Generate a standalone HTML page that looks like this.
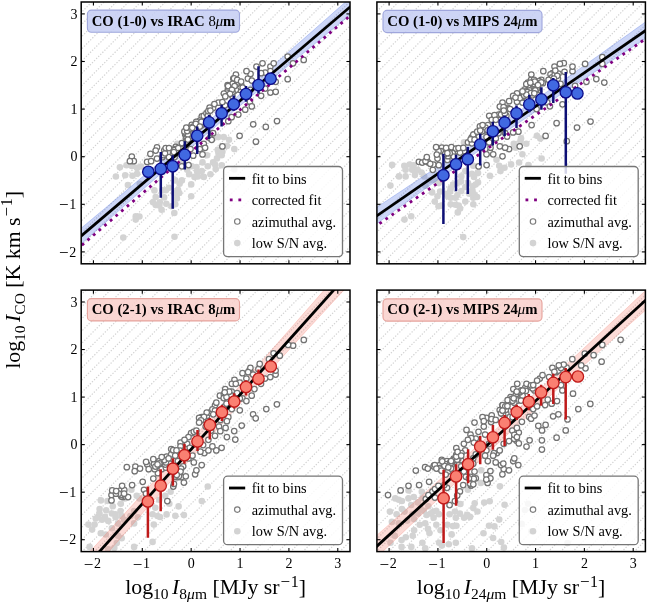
<!DOCTYPE html><html><head><meta charset="utf-8"><style>html,body{margin:0;padding:0;background:#fff;width:648px;height:603px;overflow:hidden}</style></head><body><svg width="648" height="603" viewBox="0 0 648 603" style="display:block;will-change:transform;font-family:'Liberation Serif',serif" font-size="14"><defs><clipPath id="cTL"><rect x="81.2" y="2.0" width="268.80" height="261.80"/></clipPath><clipPath id="cTR"><rect x="376.9" y="2.0" width="268.50" height="261.80"/></clipPath><clipPath id="cBL"><rect x="81.2" y="290.1" width="268.80" height="261.50"/></clipPath><clipPath id="cBR"><rect x="376.9" y="290.1" width="268.50" height="261.50"/></clipPath></defs><rect width="648" height="603" fill="#fff"/><path clip-path="url(#cTL)" d="M7.86,0L-692.14,700M20.13,0L-679.87,700M32.40,0L-667.60,700M44.67,0L-655.33,700M56.94,0L-643.06,700M69.21,0L-630.79,700M81.48,0L-618.52,700M93.75,0L-606.25,700M106.02,0L-593.98,700M118.29,0L-581.71,700M130.56,0L-569.44,700M142.83,0L-557.17,700M155.10,0L-544.90,700M167.37,0L-532.63,700M179.64,0L-520.36,700M191.91,0L-508.09,700M204.18,0L-495.82,700M216.45,0L-483.55,700M228.72,0L-471.28,700M240.99,0L-459.01,700M253.26,0L-446.74,700M265.53,0L-434.47,700M277.80,0L-422.20,700M290.07,0L-409.93,700M302.34,0L-397.66,700M314.61,0L-385.39,700M326.88,0L-373.12,700M339.15,0L-360.85,700M351.42,0L-348.58,700M363.69,0L-336.31,700M375.96,0L-324.04,700M388.23,0L-311.77,700M400.50,0L-299.50,700M412.77,0L-287.23,700M425.04,0L-274.96,700M437.31,0L-262.69,700M449.58,0L-250.42,700M461.85,0L-238.15,700M474.12,0L-225.88,700M486.39,0L-213.61,700M498.66,0L-201.34,700M510.93,0L-189.07,700M523.20,0L-176.80,700M535.47,0L-164.53,700M547.74,0L-152.26,700M560.01,0L-139.99,700M572.28,0L-127.72,700M584.55,0L-115.45,700M596.82,0L-103.18,700M609.09,0L-90.91,700M621.36,0L-78.64,700M633.63,0L-66.37,700M645.90,0L-54.10,700M658.17,0L-41.83,700M670.44,0L-29.56,700M682.71,0L-17.29,700M694.98,0L-5.02,700M707.25,0L7.25,700M719.52,0L19.52,700M731.79,0L31.79,700M744.06,0L44.06,700M756.33,0L56.33,700M768.60,0L68.60,700M780.87,0L80.87,700M793.14,0L93.14,700M805.41,0L105.41,700M817.68,0L117.68,700M829.95,0L129.95,700M842.22,0L142.22,700M854.49,0L154.49,700M866.76,0L166.76,700M879.03,0L179.03,700M891.30,0L191.30,700M903.57,0L203.57,700M915.84,0L215.84,700M928.11,0L228.11,700M940.38,0L240.38,700M952.65,0L252.65,700M964.92,0L264.92,700M977.19,0L277.19,700M989.46,0L289.46,700M1001.73,0L301.73,700M1014.00,0L314.00,700M1026.27,0L326.27,700M1038.54,0L338.54,700M1050.81,0L350.81,700M1063.08,0L363.08,700M1075.35,0L375.35,700M1087.62,0L387.62,700M1099.89,0L399.89,700M1112.16,0L412.16,700M1124.43,0L424.43,700M1136.70,0L436.70,700M1148.97,0L448.97,700M1161.24,0L461.24,700M1173.51,0L473.51,700M1185.78,0L485.78,700M1198.05,0L498.05,700M1210.32,0L510.32,700M1222.59,0L522.59,700M1234.86,0L534.86,700M1247.13,0L547.13,700M1259.40,0L559.40,700M1271.67,0L571.67,700M1283.94,0L583.94,700M1296.21,0L596.21,700M1308.48,0L608.48,700M1320.75,0L620.75,700M1333.02,0L633.02,700M1345.29,0L645.29,700" stroke="#d2d2d2" stroke-width="1.2" stroke-dasharray="1.3 1.63" fill="none"/><g clip-path="url(#cTL)" fill="#d3d3d3"><circle cx="119.9" cy="167.2" r="3.3"/><circle cx="126.5" cy="165.2" r="3.3"/><circle cx="131.8" cy="165.9" r="3.3"/><circle cx="137.1" cy="167.9" r="3.3"/><circle cx="141.1" cy="166.5" r="3.3"/><circle cx="115.9" cy="176.5" r="3.3"/><circle cx="125.2" cy="175.2" r="3.3"/><circle cx="132.5" cy="175.8" r="3.3"/><circle cx="137.1" cy="173.8" r="3.3"/><circle cx="127.9" cy="185.1" r="3.3"/><circle cx="139.8" cy="183.8" r="3.3"/><circle cx="154.4" cy="190.4" r="3.3"/><circle cx="155.7" cy="197.0" r="3.3"/><circle cx="159.7" cy="202.4" r="3.3"/><circle cx="162.4" cy="190.4" r="3.3"/><circle cx="169.0" cy="187.8" r="3.3"/><circle cx="174.3" cy="193.1" r="3.3"/><circle cx="176.9" cy="198.4" r="3.3"/><circle cx="166.3" cy="203.7" r="3.3"/><circle cx="171.6" cy="206.3" r="3.3"/><circle cx="174.3" cy="213.0" r="3.3"/><circle cx="135.8" cy="216.3" r="3.3"/><circle cx="155.7" cy="205.0" r="3.3"/><circle cx="179.6" cy="183.8" r="3.3"/><circle cx="177.2" cy="143.8" r="3.3"/><circle cx="181.2" cy="162.4" r="3.3"/><circle cx="191.8" cy="166.3" r="3.3"/><circle cx="197.1" cy="171.6" r="3.3"/><circle cx="202.5" cy="162.4" r="3.3"/><circle cx="207.8" cy="166.3" r="3.3"/><circle cx="213.1" cy="162.4" r="3.3"/><circle cx="217.0" cy="158.4" r="3.3"/><circle cx="218.4" cy="153.1" r="3.3"/><circle cx="222.4" cy="151.7" r="3.3"/><circle cx="223.7" cy="137.1" r="3.3"/><circle cx="218.4" cy="137.1" r="3.3"/><circle cx="229.0" cy="139.8" r="3.3"/><circle cx="234.3" cy="149.1" r="3.3"/><circle cx="215.7" cy="169.0" r="3.3"/><circle cx="210.4" cy="174.3" r="3.3"/><circle cx="203.8" cy="176.9" r="3.3"/><circle cx="189.2" cy="174.3" r="3.3"/><circle cx="194.5" cy="176.9" r="3.3"/><circle cx="213.8" cy="138.0" r="3.3"/><circle cx="217.8" cy="149.9" r="3.3"/><circle cx="227.0" cy="145.9" r="3.3"/><circle cx="207.1" cy="155.2" r="3.3"/><circle cx="221.7" cy="155.2" r="3.3"/><circle cx="215.1" cy="164.5" r="3.3"/><circle cx="221.7" cy="165.2" r="3.3"/><circle cx="196.5" cy="167.1" r="3.3"/><circle cx="201.8" cy="171.1" r="3.3"/><circle cx="197.9" cy="176.4" r="3.3"/><circle cx="187.2" cy="169.8" r="3.3"/><circle cx="181.9" cy="180.4" r="3.3"/><circle cx="175.3" cy="180.4" r="3.3"/><circle cx="191.2" cy="184.4" r="3.3"/><circle cx="178.0" cy="189.7" r="3.3"/><circle cx="191.2" cy="196.3" r="3.3"/><circle cx="175.3" cy="204.3" r="3.3"/><circle cx="135.7" cy="219.6" r="3.3"/><circle cx="139.4" cy="216.5" r="3.3"/><circle cx="123.3" cy="237.5" r="3.3"/><circle cx="153.0" cy="202.3" r="3.3"/><circle cx="161.6" cy="209.8" r="3.3"/><circle cx="164.1" cy="197.4" r="3.3"/><circle cx="165.9" cy="190.3" r="3.3"/><circle cx="179.2" cy="193.0" r="3.3"/><circle cx="159.3" cy="205.6" r="3.3"/><circle cx="174.5" cy="236.7" r="3.3"/><circle cx="234.3" cy="169.5" r="3.3"/></g><path clip-path="url(#cTL)" d="M61.2,244.9L66.3,240.6L71.5,236.3L76.6,232.0L81.8,227.7L86.9,223.4L92.1,219.1L97.2,214.8L102.4,210.5L107.5,206.2L112.7,201.9L117.8,197.6L123.0,193.3L128.1,189.0L133.3,184.6L138.4,180.3L143.5,176.0L148.7,171.7L153.8,167.3L159.0,163.0L164.1,158.6L169.3,154.3L174.4,149.9L179.6,145.6L184.7,141.2L189.9,136.9L195.0,132.5L200.2,128.1L205.3,123.8L210.5,119.4L215.6,115.0L220.7,110.6L225.9,106.2L231.0,101.8L236.2,97.4L241.3,93.0L246.5,88.5L251.6,84.1L256.8,79.6L261.9,75.2L267.1,70.7L272.2,66.3L277.4,61.8L282.5,57.3L287.7,52.8L292.8,48.3L297.9,43.8L303.1,39.3L308.2,34.8L313.4,30.3L318.5,25.7L323.7,21.2L328.8,16.7L334.0,12.1L339.1,7.6L344.3,3.1L349.4,-1.5L354.6,-6.0L359.7,-10.6L364.9,-15.1L370.0,-19.7L370.0,-1.3L364.9,2.9L359.7,7.1L354.6,11.3L349.4,15.5L344.3,19.7L339.1,23.9L334.0,28.1L328.8,32.3L323.7,36.5L318.5,40.7L313.4,45.0L308.2,49.2L303.1,53.4L297.9,57.6L292.8,61.9L287.7,66.1L282.5,70.4L277.4,74.7L272.2,78.9L267.1,83.2L261.9,87.5L256.8,91.8L251.6,96.1L246.5,100.4L241.3,104.7L236.2,109.1L231.0,113.4L225.9,117.8L220.7,122.1L215.6,126.5L210.5,130.9L205.3,135.3L200.2,139.7L195.0,144.1L189.9,148.6L184.7,153.0L179.6,157.5L174.4,161.9L169.3,166.4L164.1,170.9L159.0,175.4L153.8,179.9L148.7,184.4L143.5,188.9L138.4,193.4L133.3,197.9L128.1,202.5L123.0,207.0L117.8,211.6L112.7,216.1L107.5,220.7L102.4,225.2L97.2,229.8L92.1,234.3L86.9,238.9L81.8,243.5L76.6,248.1L71.5,252.6L66.3,257.2L61.2,261.8Z" fill="#4169e1" fill-opacity="0.27" stroke="#4169e1" stroke-opacity="0.27" stroke-width="1.0"/><g clip-path="url(#cTL)" fill="#fff" stroke="#737373" stroke-width="1.25"><circle cx="247.9" cy="78.5" r="2.75"/><circle cx="191.7" cy="124.9" r="2.75"/><circle cx="131.8" cy="156.6" r="2.75"/><circle cx="261.1" cy="95.8" r="2.75"/><circle cx="230.7" cy="91.6" r="2.75"/><circle cx="175.7" cy="146.9" r="2.75"/><circle cx="253.2" cy="124.3" r="2.75"/><circle cx="169.0" cy="157.2" r="2.75"/><circle cx="190.5" cy="131.8" r="2.75"/><circle cx="187.5" cy="137.5" r="2.75"/><circle cx="270.4" cy="66.6" r="2.75"/><circle cx="133.8" cy="161.2" r="2.75"/><circle cx="287.7" cy="56.6" r="2.75"/><circle cx="190.3" cy="139.2" r="2.75"/><circle cx="162.4" cy="157.2" r="2.75"/><circle cx="163.7" cy="155.2" r="2.75"/><circle cx="241.2" cy="85.2" r="2.75"/><circle cx="188.5" cy="130.6" r="2.75"/><circle cx="204.5" cy="117.8" r="2.75"/><circle cx="227.6" cy="85.0" r="2.75"/><circle cx="209.8" cy="138.0" r="2.75"/><circle cx="228.0" cy="88.5" r="2.75"/><circle cx="164.3" cy="150.4" r="2.75"/><circle cx="239.9" cy="89.8" r="2.75"/><circle cx="186.5" cy="146.4" r="2.75"/><circle cx="157.0" cy="147.3" r="2.75"/><circle cx="293.0" cy="63.3" r="2.75"/><circle cx="250.5" cy="73.9" r="2.75"/><circle cx="201.8" cy="116.4" r="2.75"/><circle cx="184.4" cy="148.2" r="2.75"/><circle cx="226.6" cy="92.5" r="2.75"/><circle cx="203.8" cy="119.7" r="2.75"/><circle cx="188.5" cy="165.0" r="2.75"/><circle cx="237.1" cy="86.8" r="2.75"/><circle cx="234.0" cy="90.5" r="2.75"/><circle cx="211.7" cy="139.8" r="2.75"/><circle cx="218.4" cy="102.7" r="2.75"/><circle cx="233.9" cy="91.3" r="2.75"/><circle cx="270.4" cy="92.5" r="2.75"/><circle cx="188.6" cy="149.5" r="2.75"/><circle cx="235.9" cy="74.5" r="2.75"/><circle cx="255.9" cy="141.7" r="2.75"/><circle cx="262.5" cy="63.3" r="2.75"/><circle cx="203.8" cy="115.9" r="2.75"/><circle cx="228.3" cy="121.2" r="2.75"/><circle cx="275.7" cy="81.8" r="2.75"/><circle cx="233.3" cy="78.5" r="2.75"/><circle cx="202.1" cy="125.0" r="2.75"/><circle cx="206.4" cy="113.3" r="2.75"/><circle cx="147.1" cy="161.9" r="2.75"/><circle cx="187.3" cy="141.5" r="2.75"/><circle cx="165.0" cy="153.3" r="2.75"/><circle cx="181.9" cy="166.3" r="2.75"/><circle cx="249.9" cy="101.7" r="2.75"/><circle cx="176.5" cy="152.2" r="2.75"/><circle cx="238.3" cy="87.1" r="2.75"/><circle cx="174.9" cy="149.0" r="2.75"/><circle cx="213.1" cy="133.2" r="2.75"/><circle cx="251.8" cy="106.4" r="2.75"/><circle cx="223.9" cy="93.6" r="2.75"/><circle cx="238.3" cy="114.6" r="2.75"/><circle cx="185.2" cy="134.5" r="2.75"/><circle cx="174.3" cy="150.0" r="2.75"/><circle cx="242.7" cy="87.5" r="2.75"/><circle cx="270.4" cy="71.2" r="2.75"/><circle cx="207.8" cy="115.9" r="2.75"/><circle cx="303.7" cy="59.9" r="2.75"/><circle cx="234.1" cy="78.4" r="2.75"/><circle cx="199.8" cy="120.6" r="2.75"/><circle cx="196.2" cy="121.8" r="2.75"/><circle cx="173.0" cy="153.3" r="2.75"/><circle cx="188.6" cy="138.0" r="2.75"/><circle cx="225.0" cy="105.3" r="2.75"/><circle cx="202.1" cy="124.1" r="2.75"/><circle cx="165.7" cy="148.0" r="2.75"/><circle cx="203.8" cy="143.8" r="2.75"/><circle cx="185.9" cy="138.5" r="2.75"/><circle cx="202.5" cy="122.6" r="2.75"/><circle cx="265.8" cy="126.9" r="2.75"/><circle cx="232.6" cy="83.8" r="2.75"/><circle cx="186.7" cy="137.5" r="2.75"/><circle cx="246.5" cy="71.2" r="2.75"/><circle cx="256.5" cy="66.6" r="2.75"/><circle cx="205.1" cy="147.8" r="2.75"/><circle cx="189.2" cy="127.9" r="2.75"/><circle cx="239.6" cy="135.8" r="2.75"/><circle cx="232.4" cy="96.1" r="2.75"/><circle cx="213.1" cy="108.0" r="2.75"/><circle cx="250.5" cy="89.8" r="2.75"/><circle cx="169.0" cy="148.0" r="2.75"/><circle cx="214.4" cy="104.0" r="2.75"/><circle cx="209.6" cy="107.7" r="2.75"/><circle cx="155.7" cy="150.6" r="2.75"/><circle cx="150.4" cy="153.9" r="2.75"/><circle cx="222.4" cy="102.0" r="2.75"/><circle cx="190.5" cy="149.1" r="2.75"/><circle cx="231.6" cy="117.2" r="2.75"/><circle cx="208.3" cy="111.2" r="2.75"/><circle cx="193.2" cy="155.7" r="2.75"/><circle cx="237.2" cy="83.8" r="2.75"/><circle cx="151.1" cy="161.2" r="2.75"/><circle cx="181.9" cy="143.1" r="2.75"/><circle cx="265.1" cy="88.5" r="2.75"/><circle cx="180.9" cy="148.8" r="2.75"/><circle cx="176.1" cy="153.7" r="2.75"/><circle cx="222.4" cy="146.4" r="2.75"/><circle cx="178.3" cy="148.0" r="2.75"/><circle cx="185.6" cy="133.1" r="2.75"/><circle cx="129.9" cy="161.2" r="2.75"/><circle cx="187.9" cy="134.5" r="2.75"/><circle cx="195.5" cy="125.7" r="2.75"/><circle cx="228.1" cy="86.0" r="2.75"/><circle cx="174.6" cy="157.0" r="2.75"/><circle cx="275.7" cy="91.8" r="2.75"/><circle cx="184.4" cy="131.4" r="2.75"/><circle cx="235.9" cy="89.8" r="2.75"/><circle cx="199.8" cy="149.1" r="2.75"/><circle cx="197.1" cy="126.8" r="2.75"/><circle cx="238.3" cy="82.3" r="2.75"/><circle cx="201.4" cy="121.9" r="2.75"/><circle cx="193.2" cy="126.5" r="2.75"/><circle cx="287.7" cy="79.2" r="2.75"/><circle cx="178.6" cy="153.1" r="2.75"/><circle cx="265.1" cy="72.6" r="2.75"/><circle cx="187.2" cy="131.0" r="2.75"/><circle cx="237.2" cy="79.9" r="2.75"/><circle cx="277.0" cy="121.0" r="2.75"/><circle cx="251.8" cy="80.5" r="2.75"/><circle cx="191.5" cy="129.2" r="2.75"/><circle cx="202.5" cy="154.4" r="2.75"/><circle cx="232.6" cy="92.0" r="2.75"/><circle cx="234.6" cy="86.1" r="2.75"/><circle cx="273.7" cy="63.3" r="2.75"/><circle cx="231.9" cy="89.8" r="2.75"/><circle cx="210.4" cy="110.6" r="2.75"/><circle cx="186.3" cy="127.7" r="2.75"/><circle cx="157.0" cy="158.6" r="2.75"/><circle cx="230.0" cy="93.8" r="2.75"/><circle cx="225.3" cy="96.4" r="2.75"/><circle cx="194.5" cy="129.9" r="2.75"/><circle cx="195.8" cy="123.9" r="2.75"/><circle cx="187.9" cy="139.5" r="2.75"/><circle cx="245.2" cy="109.7" r="2.75"/><circle cx="241.1" cy="81.6" r="2.75"/><circle cx="192.3" cy="127.8" r="2.75"/><circle cx="199.8" cy="126.5" r="2.75"/><circle cx="261.1" cy="73.2" r="2.75"/><circle cx="173.9" cy="152.1" r="2.75"/></g><line clip-path="url(#cTL)" x1="41.20" y1="270.08" x2="390.00" y2="-27.08" stroke="#000" stroke-width="2.8" stroke-linecap="butt"/><line clip-path="url(#cTL)" x1="42.50" y1="278.81" x2="385.20" y2="-14.31" stroke="#800080" stroke-width="2.8" stroke-dasharray="2.8 4.6" stroke-linecap="butt"/><g clip-path="url(#cTL)"><line x1="160.8" y1="152.0" x2="160.8" y2="197.7" stroke="#0d0f75" stroke-width="2.5"/><line x1="172.7" y1="155.3" x2="172.7" y2="208.7" stroke="#0d0f75" stroke-width="2.5"/><line x1="184.8" y1="141.3" x2="184.8" y2="169.5" stroke="#0d0f75" stroke-width="2.5"/><line x1="197.2" y1="126.4" x2="197.2" y2="154.0" stroke="#0d0f75" stroke-width="2.5"/><line x1="209.1" y1="115.0" x2="209.1" y2="139.1" stroke="#0d0f75" stroke-width="2.5"/><line x1="221.6" y1="104.8" x2="221.6" y2="126.4" stroke="#0d0f75" stroke-width="2.5"/><line x1="233.7" y1="95.5" x2="233.7" y2="110.7" stroke="#0d0f75" stroke-width="2.5"/><line x1="246.0" y1="86.1" x2="246.0" y2="101.8" stroke="#0d0f75" stroke-width="2.5"/><line x1="258.5" y1="66.3" x2="258.5" y2="93.6" stroke="#0d0f75" stroke-width="2.5"/><circle cx="148.3" cy="171.8" r="5.7" fill="#4169e1" stroke="#0c0c8a" stroke-width="1.3"/><circle cx="160.8" cy="168.9" r="5.7" fill="#4169e1" stroke="#0c0c8a" stroke-width="1.3"/><circle cx="172.7" cy="166.3" r="5.7" fill="#4169e1" stroke="#0c0c8a" stroke-width="1.3"/><circle cx="184.8" cy="154.9" r="5.7" fill="#4169e1" stroke="#0c0c8a" stroke-width="1.3"/><circle cx="197.2" cy="135.8" r="5.7" fill="#4169e1" stroke="#0c0c8a" stroke-width="1.3"/><circle cx="209.1" cy="122.4" r="5.7" fill="#4169e1" stroke="#0c0c8a" stroke-width="1.3"/><circle cx="221.6" cy="113.3" r="5.7" fill="#4169e1" stroke="#0c0c8a" stroke-width="1.3"/><circle cx="233.7" cy="104.3" r="5.7" fill="#4169e1" stroke="#0c0c8a" stroke-width="1.3"/><circle cx="246.0" cy="94.0" r="5.7" fill="#4169e1" stroke="#0c0c8a" stroke-width="1.3"/><circle cx="258.5" cy="85.1" r="5.7" fill="#4169e1" stroke="#0c0c8a" stroke-width="1.3"/><circle cx="270.6" cy="78.7" r="5.7" fill="#4169e1" stroke="#0c0c8a" stroke-width="1.3"/></g><rect x="223.6" y="166.5" width="118.9" height="90.2" rx="4" fill="#fff" fill-opacity="0.82" stroke="#767676" stroke-width="1.3"/><line x1="229.0" y1="178.3" x2="245.2" y2="178.3" stroke="#000" stroke-width="2.8"/><text x="251.7" y="183.5" font-size="14.35">fit to bins</text><rect x="229.79999999999998" y="198.5" width="2.8" height="2.8" fill="#800080"/><rect x="238.4" y="198.5" width="2.8" height="2.8" fill="#800080"/><text x="251.7" y="205.1" font-size="14.35">corrected fit</text><circle cx="237.29999999999998" cy="221.5" r="2.75" fill="#fff" stroke="#7b7b7b" stroke-width="1.15"/><text x="251.7" y="226.7" font-size="14.35">azimuthal avg.</text><circle cx="237.29999999999998" cy="243.1" r="3.3" fill="#d3d3d3"/><text x="251.7" y="248.29999999999998" font-size="14.35">low S/N avg.</text><rect x="87.4" y="10.1" width="152.1" height="22.1" rx="4" fill="#c4cdf3" fill-opacity="0.85" stroke="#9fa6dc" stroke-width="1.1"/><text x="91.7" y="25.6" font-weight="bold" font-size="14.7">CO (1-0) vs IRAC <tspan font-weight="normal">8<tspan font-style="italic">μ</tspan></tspan>m</text><rect x="81.2" y="2.0" width="268.80" height="261.80" fill="none" stroke="#000" stroke-width="1.5"/><line x1="93.42" y1="263.8" x2="93.42" y2="260.2" stroke="#000" stroke-width="1.1"/><line x1="93.42" y1="2.0" x2="93.42" y2="5.6" stroke="#000" stroke-width="1.1"/><line x1="81.2" y1="251.90" x2="84.8" y2="251.90" stroke="#000" stroke-width="1.1"/><line x1="350.0" y1="251.90" x2="346.4" y2="251.90" stroke="#000" stroke-width="1.1"/><line x1="142.29" y1="263.8" x2="142.29" y2="260.2" stroke="#000" stroke-width="1.1"/><line x1="142.29" y1="2.0" x2="142.29" y2="5.6" stroke="#000" stroke-width="1.1"/><line x1="81.2" y1="204.30" x2="84.8" y2="204.30" stroke="#000" stroke-width="1.1"/><line x1="350.0" y1="204.30" x2="346.4" y2="204.30" stroke="#000" stroke-width="1.1"/><line x1="191.16" y1="263.8" x2="191.16" y2="260.2" stroke="#000" stroke-width="1.1"/><line x1="191.16" y1="2.0" x2="191.16" y2="5.6" stroke="#000" stroke-width="1.1"/><line x1="81.2" y1="156.70" x2="84.8" y2="156.70" stroke="#000" stroke-width="1.1"/><line x1="350.0" y1="156.70" x2="346.4" y2="156.70" stroke="#000" stroke-width="1.1"/><line x1="240.04" y1="263.8" x2="240.04" y2="260.2" stroke="#000" stroke-width="1.1"/><line x1="240.04" y1="2.0" x2="240.04" y2="5.6" stroke="#000" stroke-width="1.1"/><line x1="81.2" y1="109.10" x2="84.8" y2="109.10" stroke="#000" stroke-width="1.1"/><line x1="350.0" y1="109.10" x2="346.4" y2="109.10" stroke="#000" stroke-width="1.1"/><line x1="288.91" y1="263.8" x2="288.91" y2="260.2" stroke="#000" stroke-width="1.1"/><line x1="288.91" y1="2.0" x2="288.91" y2="5.6" stroke="#000" stroke-width="1.1"/><line x1="81.2" y1="61.50" x2="84.8" y2="61.50" stroke="#000" stroke-width="1.1"/><line x1="350.0" y1="61.50" x2="346.4" y2="61.50" stroke="#000" stroke-width="1.1"/><line x1="337.78" y1="263.8" x2="337.78" y2="260.2" stroke="#000" stroke-width="1.1"/><line x1="337.78" y1="2.0" x2="337.78" y2="5.6" stroke="#000" stroke-width="1.1"/><line x1="81.2" y1="13.90" x2="84.8" y2="13.90" stroke="#000" stroke-width="1.1"/><line x1="350.0" y1="13.90" x2="346.4" y2="13.90" stroke="#000" stroke-width="1.1"/><text x="76.2" y="256.6" text-anchor="end"><tspan font-size="17" dy="1.4">−</tspan><tspan dy="-1.4" dx="0.6">2</tspan></text><text x="76.2" y="209.0" text-anchor="end"><tspan font-size="17" dy="1.4">−</tspan><tspan dy="-1.4" dx="0.6">1</tspan></text><text x="77.4" y="161.4" text-anchor="end">0</text><text x="77.4" y="113.8" text-anchor="end">1</text><text x="77.4" y="66.2" text-anchor="end">2</text><text x="77.4" y="18.6" text-anchor="end">3</text><path clip-path="url(#cTR)" d="M7.86,0L-692.14,700M20.13,0L-679.87,700M32.40,0L-667.60,700M44.67,0L-655.33,700M56.94,0L-643.06,700M69.21,0L-630.79,700M81.48,0L-618.52,700M93.75,0L-606.25,700M106.02,0L-593.98,700M118.29,0L-581.71,700M130.56,0L-569.44,700M142.83,0L-557.17,700M155.10,0L-544.90,700M167.37,0L-532.63,700M179.64,0L-520.36,700M191.91,0L-508.09,700M204.18,0L-495.82,700M216.45,0L-483.55,700M228.72,0L-471.28,700M240.99,0L-459.01,700M253.26,0L-446.74,700M265.53,0L-434.47,700M277.80,0L-422.20,700M290.07,0L-409.93,700M302.34,0L-397.66,700M314.61,0L-385.39,700M326.88,0L-373.12,700M339.15,0L-360.85,700M351.42,0L-348.58,700M363.69,0L-336.31,700M375.96,0L-324.04,700M388.23,0L-311.77,700M400.50,0L-299.50,700M412.77,0L-287.23,700M425.04,0L-274.96,700M437.31,0L-262.69,700M449.58,0L-250.42,700M461.85,0L-238.15,700M474.12,0L-225.88,700M486.39,0L-213.61,700M498.66,0L-201.34,700M510.93,0L-189.07,700M523.20,0L-176.80,700M535.47,0L-164.53,700M547.74,0L-152.26,700M560.01,0L-139.99,700M572.28,0L-127.72,700M584.55,0L-115.45,700M596.82,0L-103.18,700M609.09,0L-90.91,700M621.36,0L-78.64,700M633.63,0L-66.37,700M645.90,0L-54.10,700M658.17,0L-41.83,700M670.44,0L-29.56,700M682.71,0L-17.29,700M694.98,0L-5.02,700M707.25,0L7.25,700M719.52,0L19.52,700M731.79,0L31.79,700M744.06,0L44.06,700M756.33,0L56.33,700M768.60,0L68.60,700M780.87,0L80.87,700M793.14,0L93.14,700M805.41,0L105.41,700M817.68,0L117.68,700M829.95,0L129.95,700M842.22,0L142.22,700M854.49,0L154.49,700M866.76,0L166.76,700M879.03,0L179.03,700M891.30,0L191.30,700M903.57,0L203.57,700M915.84,0L215.84,700M928.11,0L228.11,700M940.38,0L240.38,700M952.65,0L252.65,700M964.92,0L264.92,700M977.19,0L277.19,700M989.46,0L289.46,700M1001.73,0L301.73,700M1014.00,0L314.00,700M1026.27,0L326.27,700M1038.54,0L338.54,700M1050.81,0L350.81,700M1063.08,0L363.08,700M1075.35,0L375.35,700M1087.62,0L387.62,700M1099.89,0L399.89,700M1112.16,0L412.16,700M1124.43,0L424.43,700M1136.70,0L436.70,700M1148.97,0L448.97,700M1161.24,0L461.24,700M1173.51,0L473.51,700M1185.78,0L485.78,700M1198.05,0L498.05,700M1210.32,0L510.32,700M1222.59,0L522.59,700M1234.86,0L534.86,700M1247.13,0L547.13,700M1259.40,0L559.40,700M1271.67,0L571.67,700M1283.94,0L583.94,700M1296.21,0L596.21,700M1308.48,0L608.48,700M1320.75,0L620.75,700M1333.02,0L633.02,700M1345.29,0L645.29,700" stroke="#d2d2d2" stroke-width="1.2" stroke-dasharray="1.3 1.63" fill="none"/><g clip-path="url(#cTR)" fill="#d3d3d3"><circle cx="404.3" cy="165.8" r="3.3"/><circle cx="409.6" cy="164.5" r="3.3"/><circle cx="413.6" cy="165.2" r="3.3"/><circle cx="405.6" cy="169.8" r="3.3"/><circle cx="412.2" cy="169.8" r="3.3"/><circle cx="417.6" cy="169.8" r="3.3"/><circle cx="421.5" cy="172.5" r="3.3"/><circle cx="399.0" cy="176.4" r="3.3"/><circle cx="405.6" cy="176.4" r="3.3"/><circle cx="414.9" cy="175.1" r="3.3"/><circle cx="424.2" cy="176.4" r="3.3"/><circle cx="429.5" cy="180.4" r="3.3"/><circle cx="425.5" cy="185.7" r="3.3"/><circle cx="434.8" cy="180.4" r="3.3"/><circle cx="438.8" cy="183.1" r="3.3"/><circle cx="432.1" cy="192.4" r="3.3"/><circle cx="437.5" cy="196.3" r="3.3"/><circle cx="445.4" cy="193.7" r="3.3"/><circle cx="450.7" cy="197.7" r="3.3"/><circle cx="457.4" cy="195.0" r="3.3"/><circle cx="461.3" cy="191.0" r="3.3"/><circle cx="465.3" cy="187.0" r="3.3"/><circle cx="468.0" cy="183.1" r="3.3"/><circle cx="469.3" cy="193.7" r="3.3"/><circle cx="473.3" cy="197.7" r="3.3"/><circle cx="434.8" cy="201.6" r="3.3"/><circle cx="441.4" cy="205.6" r="3.3"/><circle cx="450.7" cy="204.3" r="3.3"/><circle cx="458.7" cy="205.6" r="3.3"/><circle cx="465.3" cy="201.6" r="3.3"/><circle cx="473.3" cy="204.3" r="3.3"/><circle cx="450.7" cy="188.4" r="3.3"/><circle cx="457.4" cy="183.1" r="3.3"/><circle cx="461.3" cy="176.4" r="3.3"/><circle cx="465.3" cy="171.1" r="3.3"/><circle cx="471.9" cy="173.8" r="3.3"/><circle cx="473.3" cy="165.8" r="3.3"/><circle cx="521.0" cy="138.4" r="3.3"/><circle cx="515.7" cy="147.7" r="3.3"/><circle cx="522.4" cy="154.3" r="3.3"/><circle cx="526.3" cy="143.7" r="3.3"/><circle cx="536.9" cy="135.7" r="3.3"/><circle cx="464.0" cy="142.4" r="3.3"/><circle cx="520.4" cy="141.2" r="3.3"/><circle cx="513.8" cy="143.9" r="3.3"/><circle cx="519.1" cy="162.5" r="3.3"/><circle cx="511.1" cy="164.4" r="3.3"/><circle cx="504.5" cy="167.8" r="3.3"/><circle cx="499.2" cy="165.8" r="3.3"/><circle cx="500.5" cy="171.1" r="3.3"/><circle cx="489.9" cy="175.7" r="3.3"/><circle cx="478.0" cy="173.1" r="3.3"/><circle cx="474.0" cy="177.0" r="3.3"/><circle cx="478.0" cy="182.4" r="3.3"/><circle cx="472.7" cy="186.3" r="3.3"/><circle cx="474.0" cy="194.3" r="3.3"/><circle cx="541.6" cy="158.5" r="3.3"/><circle cx="540.3" cy="138.6" r="3.3"/><circle cx="528.4" cy="165.1" r="3.3"/><circle cx="496.5" cy="159.8" r="3.3"/><circle cx="440.1" cy="191.6" r="3.3"/><circle cx="438.5" cy="206.2" r="3.3"/><circle cx="447.8" cy="196.2" r="3.3"/><circle cx="450.1" cy="191.6" r="3.3"/><circle cx="453.2" cy="184.6" r="3.3"/><circle cx="455.5" cy="197.7" r="3.3"/><circle cx="455.5" cy="204.7" r="3.3"/><circle cx="460.1" cy="208.5" r="3.3"/><circle cx="457.8" cy="212.4" r="3.3"/><circle cx="472.5" cy="190.8" r="3.3"/><circle cx="477.1" cy="197.0" r="3.3"/><circle cx="475.6" cy="184.6" r="3.3"/><circle cx="463.2" cy="237.1" r="3.3"/><circle cx="460.9" cy="181.5" r="3.3"/><circle cx="392.1" cy="164.9" r="3.3"/><circle cx="390.4" cy="185.6" r="3.3"/><circle cx="404.5" cy="219.6" r="3.3"/><circle cx="411.2" cy="216.3" r="3.3"/></g><path clip-path="url(#cTR)" d="M356.9,220.4L362.0,217.0L367.2,213.6L372.3,210.2L377.5,206.8L382.6,203.4L387.8,200.0L392.9,196.6L398.0,193.2L403.2,189.8L408.3,186.3L413.5,182.9L418.6,179.5L423.7,176.0L428.9,172.6L434.0,169.1L439.2,165.7L444.3,162.2L449.4,158.8L454.6,155.3L459.7,151.8L464.9,148.3L470.0,144.9L475.2,141.4L480.3,137.9L485.4,134.4L490.6,130.8L495.7,127.3L500.9,123.8L506.0,120.2L511.1,116.7L516.3,113.1L521.4,109.6L526.6,106.0L531.7,102.5L536.9,98.9L542.0,95.3L547.1,91.7L552.3,88.1L557.4,84.5L562.6,80.9L567.7,77.3L572.8,73.6L578.0,70.0L583.1,66.4L588.3,62.7L593.4,59.1L598.6,55.4L603.7,51.8L608.8,48.1L614.0,44.5L619.1,40.8L624.3,37.1L629.4,33.5L634.5,29.8L639.7,26.1L644.8,22.4L650.0,18.7L655.1,15.0L660.3,11.3L665.4,7.6L665.4,25.5L660.3,28.9L655.1,32.3L650.0,35.6L644.8,39.0L639.7,42.3L634.5,45.7L629.4,49.1L624.3,52.4L619.1,55.8L614.0,59.2L608.8,62.6L603.7,66.0L598.6,69.4L593.4,72.8L588.3,76.2L583.1,79.6L578.0,83.0L572.8,86.4L567.7,89.9L562.6,93.3L557.4,96.7L552.3,100.2L547.1,103.7L542.0,107.1L536.9,110.6L531.7,114.1L526.6,117.6L521.4,121.1L516.3,124.7L511.1,128.2L506.0,131.7L500.9,135.3L495.7,138.9L490.6,142.5L485.4,146.1L480.3,149.7L475.2,153.3L470.0,156.9L464.9,160.5L459.7,164.2L454.6,167.8L449.4,171.5L444.3,175.1L439.2,178.8L434.0,182.5L428.9,186.1L423.7,189.8L418.6,193.5L413.5,197.2L408.3,200.9L403.2,204.6L398.0,208.3L392.9,212.0L387.8,215.7L382.6,219.5L377.5,223.2L372.3,226.9L367.2,230.6L362.0,234.4L356.9,238.1Z" fill="#4169e1" fill-opacity="0.27" stroke="#4169e1" stroke-opacity="0.27" stroke-width="1.0"/><g clip-path="url(#cTR)" fill="#fff" stroke="#737373" stroke-width="1.25"><circle cx="533.7" cy="87.3" r="2.75"/><circle cx="537.9" cy="90.4" r="2.75"/><circle cx="502.1" cy="113.1" r="2.75"/><circle cx="534.9" cy="85.3" r="2.75"/><circle cx="564.5" cy="71.8" r="2.75"/><circle cx="518.4" cy="98.6" r="2.75"/><circle cx="536.9" cy="94.6" r="2.75"/><circle cx="532.3" cy="95.3" r="2.75"/><circle cx="441.9" cy="147.7" r="2.75"/><circle cx="480.9" cy="131.8" r="2.75"/><circle cx="552.6" cy="73.2" r="2.75"/><circle cx="471.7" cy="137.3" r="2.75"/><circle cx="531.3" cy="74.5" r="2.75"/><circle cx="472.2" cy="139.8" r="2.75"/><circle cx="484.5" cy="130.4" r="2.75"/><circle cx="537.1" cy="83.7" r="2.75"/><circle cx="521.7" cy="94.4" r="2.75"/><circle cx="541.3" cy="79.8" r="2.75"/><circle cx="418.9" cy="161.8" r="2.75"/><circle cx="464.0" cy="151.2" r="2.75"/><circle cx="489.9" cy="151.8" r="2.75"/><circle cx="550.5" cy="74.3" r="2.75"/><circle cx="525.0" cy="89.3" r="2.75"/><circle cx="437.5" cy="158.5" r="2.75"/><circle cx="542.9" cy="83.2" r="2.75"/><circle cx="531.6" cy="125.1" r="2.75"/><circle cx="539.1" cy="81.0" r="2.75"/><circle cx="552.1" cy="77.3" r="2.75"/><circle cx="556.5" cy="77.4" r="2.75"/><circle cx="447.4" cy="159.9" r="2.75"/><circle cx="519.7" cy="146.3" r="2.75"/><circle cx="507.8" cy="107.9" r="2.75"/><circle cx="560.5" cy="83.8" r="2.75"/><circle cx="527.8" cy="82.5" r="2.75"/><circle cx="572.5" cy="71.2" r="2.75"/><circle cx="522.4" cy="102.6" r="2.75"/><circle cx="453.4" cy="153.2" r="2.75"/><circle cx="517.0" cy="101.8" r="2.75"/><circle cx="446.1" cy="147.9" r="2.75"/><circle cx="440.8" cy="151.2" r="2.75"/><circle cx="531.0" cy="79.9" r="2.75"/><circle cx="448.0" cy="156.2" r="2.75"/><circle cx="474.4" cy="134.0" r="2.75"/><circle cx="554.7" cy="74.6" r="2.75"/><circle cx="522.9" cy="93.6" r="2.75"/><circle cx="486.5" cy="137.0" r="2.75"/><circle cx="586.4" cy="81.8" r="2.75"/><circle cx="536.3" cy="87.0" r="2.75"/><circle cx="563.8" cy="63.2" r="2.75"/><circle cx="547.2" cy="102.4" r="2.75"/><circle cx="427.9" cy="162.2" r="2.75"/><circle cx="522.4" cy="97.2" r="2.75"/><circle cx="502.5" cy="102.6" r="2.75"/><circle cx="482.1" cy="131.3" r="2.75"/><circle cx="520.6" cy="97.1" r="2.75"/><circle cx="533.0" cy="92.5" r="2.75"/><circle cx="490.5" cy="147.7" r="2.75"/><circle cx="526.1" cy="91.4" r="2.75"/><circle cx="468.0" cy="142.4" r="2.75"/><circle cx="473.3" cy="134.6" r="2.75"/><circle cx="596.3" cy="79.1" r="2.75"/><circle cx="558.5" cy="73.5" r="2.75"/><circle cx="537.4" cy="88.2" r="2.75"/><circle cx="445.0" cy="154.0" r="2.75"/><circle cx="517.0" cy="93.3" r="2.75"/><circle cx="506.4" cy="115.8" r="2.75"/><circle cx="498.8" cy="114.7" r="2.75"/><circle cx="585.1" cy="63.9" r="2.75"/><circle cx="535.5" cy="89.8" r="2.75"/><circle cx="566.8" cy="141.2" r="2.75"/><circle cx="486.6" cy="165.1" r="2.75"/><circle cx="519.9" cy="98.1" r="2.75"/><circle cx="524.3" cy="95.7" r="2.75"/><circle cx="457.9" cy="151.5" r="2.75"/><circle cx="509.1" cy="149.0" r="2.75"/><circle cx="534.4" cy="86.0" r="2.75"/><circle cx="489.2" cy="142.4" r="2.75"/><circle cx="489.2" cy="115.8" r="2.75"/><circle cx="590.5" cy="121.5" r="2.75"/><circle cx="453.7" cy="156.5" r="2.75"/><circle cx="491.8" cy="119.8" r="2.75"/><circle cx="499.8" cy="106.5" r="2.75"/><circle cx="422.2" cy="162.5" r="2.75"/><circle cx="604.3" cy="82.5" r="2.75"/><circle cx="527.5" cy="92.0" r="2.75"/><circle cx="449.7" cy="153.2" r="2.75"/><circle cx="536.9" cy="88.0" r="2.75"/><circle cx="479.9" cy="126.4" r="2.75"/><circle cx="518.4" cy="131.7" r="2.75"/><circle cx="438.6" cy="151.2" r="2.75"/><circle cx="559.9" cy="63.9" r="2.75"/><circle cx="451.4" cy="147.2" r="2.75"/><circle cx="495.8" cy="138.4" r="2.75"/><circle cx="543.3" cy="71.2" r="2.75"/><circle cx="505.1" cy="147.7" r="2.75"/><circle cx="477.2" cy="131.7" r="2.75"/><circle cx="506.1" cy="109.1" r="2.75"/><circle cx="554.5" cy="66.5" r="2.75"/><circle cx="494.5" cy="115.2" r="2.75"/><circle cx="436.1" cy="147.2" r="2.75"/><circle cx="456.0" cy="148.6" r="2.75"/><circle cx="487.9" cy="125.1" r="2.75"/><circle cx="557.9" cy="78.5" r="2.75"/><circle cx="555.3" cy="70.6" r="2.75"/><circle cx="460.0" cy="152.6" r="2.75"/><circle cx="536.7" cy="88.5" r="2.75"/><circle cx="536.6" cy="109.0" r="2.75"/><circle cx="432.8" cy="169.8" r="2.75"/><circle cx="498.5" cy="133.1" r="2.75"/><circle cx="503.9" cy="114.1" r="2.75"/><circle cx="471.9" cy="143.3" r="2.75"/><circle cx="433.4" cy="164.6" r="2.75"/><circle cx="534.3" cy="84.0" r="2.75"/><circle cx="501.1" cy="114.5" r="2.75"/><circle cx="530.9" cy="93.2" r="2.75"/><circle cx="510.1" cy="109.0" r="2.75"/><circle cx="577.0" cy="127.6" r="2.75"/><circle cx="478.6" cy="166.4" r="2.75"/><circle cx="505.1" cy="133.1" r="2.75"/><circle cx="504.8" cy="113.6" r="2.75"/><circle cx="552.0" cy="80.3" r="2.75"/><circle cx="485.5" cy="127.5" r="2.75"/><circle cx="556.6" cy="123.2" r="2.75"/><circle cx="575.1" cy="85.8" r="2.75"/><circle cx="458.5" cy="148.1" r="2.75"/><circle cx="528.3" cy="85.2" r="2.75"/><circle cx="557.2" cy="75.8" r="2.75"/><circle cx="436.8" cy="154.5" r="2.75"/><circle cx="526.3" cy="94.6" r="2.75"/><circle cx="545.6" cy="135.9" r="2.75"/><circle cx="562.5" cy="104.3" r="2.75"/><circle cx="534.0" cy="79.8" r="2.75"/><circle cx="522.5" cy="91.4" r="2.75"/><circle cx="507.1" cy="136.6" r="2.75"/><circle cx="536.9" cy="83.0" r="2.75"/><circle cx="526.3" cy="84.0" r="2.75"/><circle cx="438.8" cy="165.2" r="2.75"/><circle cx="499.8" cy="146.3" r="2.75"/><circle cx="539.5" cy="83.5" r="2.75"/><circle cx="513.1" cy="132.4" r="2.75"/><circle cx="513.1" cy="95.9" r="2.75"/><circle cx="470.6" cy="139.3" r="2.75"/><circle cx="430.2" cy="163.8" r="2.75"/><circle cx="504.6" cy="109.0" r="2.75"/><circle cx="602.3" cy="63.9" r="2.75"/><circle cx="534.8" cy="81.7" r="2.75"/><circle cx="474.6" cy="139.7" r="2.75"/><circle cx="548.6" cy="79.8" r="2.75"/><circle cx="509.1" cy="101.2" r="2.75"/><circle cx="503.6" cy="107.0" r="2.75"/><circle cx="425.5" cy="161.2" r="2.75"/><circle cx="482.6" cy="125.1" r="2.75"/><circle cx="541.3" cy="82.4" r="2.75"/><circle cx="480.2" cy="130.5" r="2.75"/><circle cx="447.4" cy="153.2" r="2.75"/><circle cx="530.3" cy="82.7" r="2.75"/><circle cx="602.3" cy="57.2" r="2.75"/><circle cx="535.3" cy="90.4" r="2.75"/><circle cx="502.5" cy="156.3" r="2.75"/><circle cx="487.6" cy="130.3" r="2.75"/><circle cx="538.0" cy="85.1" r="2.75"/><circle cx="493.2" cy="154.3" r="2.75"/><circle cx="486.5" cy="154.3" r="2.75"/><circle cx="463.3" cy="147.9" r="2.75"/><circle cx="503.8" cy="110.5" r="2.75"/><circle cx="495.8" cy="119.8" r="2.75"/><circle cx="426.8" cy="157.2" r="2.75"/><circle cx="553.9" cy="78.5" r="2.75"/><circle cx="515.5" cy="97.5" r="2.75"/><circle cx="549.9" cy="106.3" r="2.75"/><circle cx="572.5" cy="66.5" r="2.75"/><circle cx="534.3" cy="93.3" r="2.75"/></g><line clip-path="url(#cTR)" x1="336.90" y1="243.39" x2="685.40" y2="3.01" stroke="#000" stroke-width="2.8" stroke-linecap="butt"/><line clip-path="url(#cTR)" x1="336.90" y1="253.18" x2="685.40" y2="11.12" stroke="#800080" stroke-width="2.8" stroke-dasharray="2.8 4.6" stroke-linecap="butt"/><g clip-path="url(#cTR)"><line x1="443.4" y1="153.8" x2="443.4" y2="224.0" stroke="#0d0f75" stroke-width="2.5"/><line x1="456.0" y1="154.7" x2="456.0" y2="191.2" stroke="#0d0f75" stroke-width="2.5"/><line x1="467.8" y1="147.0" x2="467.8" y2="193.9" stroke="#0d0f75" stroke-width="2.5"/><line x1="480.2" y1="133.7" x2="480.2" y2="165.6" stroke="#0d0f75" stroke-width="2.5"/><line x1="492.8" y1="121.8" x2="492.8" y2="145.5" stroke="#0d0f75" stroke-width="2.5"/><line x1="504.6" y1="115.5" x2="504.6" y2="136.2" stroke="#0d0f75" stroke-width="2.5"/><line x1="516.5" y1="105.6" x2="516.5" y2="128.0" stroke="#0d0f75" stroke-width="2.5"/><line x1="529.3" y1="94.8" x2="529.3" y2="112.2" stroke="#0d0f75" stroke-width="2.5"/><line x1="541.4" y1="87.3" x2="541.4" y2="109.7" stroke="#0d0f75" stroke-width="2.5"/><line x1="553.3" y1="78.0" x2="553.3" y2="103.0" stroke="#0d0f75" stroke-width="2.5"/><line x1="565.8" y1="72.1" x2="565.8" y2="173.7" stroke="#0d0f75" stroke-width="2.5"/><circle cx="443.4" cy="175.3" r="5.7" fill="#4169e1" stroke="#0c0c8a" stroke-width="1.3"/><circle cx="456.0" cy="164.3" r="5.7" fill="#4169e1" stroke="#0c0c8a" stroke-width="1.3"/><circle cx="467.8" cy="159.2" r="5.7" fill="#4169e1" stroke="#0c0c8a" stroke-width="1.3"/><circle cx="480.2" cy="144.6" r="5.7" fill="#4169e1" stroke="#0c0c8a" stroke-width="1.3"/><circle cx="492.8" cy="131.3" r="5.7" fill="#4169e1" stroke="#0c0c8a" stroke-width="1.3"/><circle cx="504.6" cy="122.6" r="5.7" fill="#4169e1" stroke="#0c0c8a" stroke-width="1.3"/><circle cx="516.5" cy="113.3" r="5.7" fill="#4169e1" stroke="#0c0c8a" stroke-width="1.3"/><circle cx="529.3" cy="104.4" r="5.7" fill="#4169e1" stroke="#0c0c8a" stroke-width="1.3"/><circle cx="541.4" cy="99.4" r="5.7" fill="#4169e1" stroke="#0c0c8a" stroke-width="1.3"/><circle cx="553.3" cy="85.3" r="5.7" fill="#4169e1" stroke="#0c0c8a" stroke-width="1.3"/><circle cx="565.8" cy="92.3" r="5.7" fill="#4169e1" stroke="#0c0c8a" stroke-width="1.3"/><circle cx="577.4" cy="93.4" r="5.7" fill="#4169e1" stroke="#0c0c8a" stroke-width="1.3"/></g><rect x="519.3" y="166.5" width="118.9" height="90.2" rx="4" fill="#fff" fill-opacity="0.82" stroke="#767676" stroke-width="1.3"/><line x1="524.6999999999999" y1="178.3" x2="540.9" y2="178.3" stroke="#000" stroke-width="2.8"/><text x="547.4" y="183.5" font-size="14.35">fit to bins</text><rect x="525.5" y="198.5" width="2.8" height="2.8" fill="#800080"/><rect x="534.0999999999999" y="198.5" width="2.8" height="2.8" fill="#800080"/><text x="547.4" y="205.1" font-size="14.35">corrected fit</text><circle cx="533.0" cy="221.5" r="2.75" fill="#fff" stroke="#7b7b7b" stroke-width="1.15"/><text x="547.4" y="226.7" font-size="14.35">azimuthal avg.</text><circle cx="533.0" cy="243.1" r="3.3" fill="#d3d3d3"/><text x="547.4" y="248.29999999999998" font-size="14.35">low S/N avg.</text><rect x="383" y="10.4" width="159" height="22.2" rx="4" fill="#c4cdf3" fill-opacity="0.85" stroke="#9fa6dc" stroke-width="1.1"/><text x="387.3" y="25.9" font-weight="bold" font-size="14.7">CO (1-0) vs MIPS 24<tspan font-weight="normal" font-style="italic">μ</tspan>m</text><rect x="376.9" y="2.0" width="268.50" height="261.80" fill="none" stroke="#000" stroke-width="1.5"/><line x1="389.10" y1="263.8" x2="389.10" y2="260.2" stroke="#000" stroke-width="1.1"/><line x1="389.10" y1="2.0" x2="389.10" y2="5.6" stroke="#000" stroke-width="1.1"/><line x1="376.9" y1="251.90" x2="380.5" y2="251.90" stroke="#000" stroke-width="1.1"/><line x1="645.4" y1="251.90" x2="641.8" y2="251.90" stroke="#000" stroke-width="1.1"/><line x1="437.92" y1="263.8" x2="437.92" y2="260.2" stroke="#000" stroke-width="1.1"/><line x1="437.92" y1="2.0" x2="437.92" y2="5.6" stroke="#000" stroke-width="1.1"/><line x1="376.9" y1="204.30" x2="380.5" y2="204.30" stroke="#000" stroke-width="1.1"/><line x1="645.4" y1="204.30" x2="641.8" y2="204.30" stroke="#000" stroke-width="1.1"/><line x1="486.74" y1="263.8" x2="486.74" y2="260.2" stroke="#000" stroke-width="1.1"/><line x1="486.74" y1="2.0" x2="486.74" y2="5.6" stroke="#000" stroke-width="1.1"/><line x1="376.9" y1="156.70" x2="380.5" y2="156.70" stroke="#000" stroke-width="1.1"/><line x1="645.4" y1="156.70" x2="641.8" y2="156.70" stroke="#000" stroke-width="1.1"/><line x1="535.56" y1="263.8" x2="535.56" y2="260.2" stroke="#000" stroke-width="1.1"/><line x1="535.56" y1="2.0" x2="535.56" y2="5.6" stroke="#000" stroke-width="1.1"/><line x1="376.9" y1="109.10" x2="380.5" y2="109.10" stroke="#000" stroke-width="1.1"/><line x1="645.4" y1="109.10" x2="641.8" y2="109.10" stroke="#000" stroke-width="1.1"/><line x1="584.38" y1="263.8" x2="584.38" y2="260.2" stroke="#000" stroke-width="1.1"/><line x1="584.38" y1="2.0" x2="584.38" y2="5.6" stroke="#000" stroke-width="1.1"/><line x1="376.9" y1="61.50" x2="380.5" y2="61.50" stroke="#000" stroke-width="1.1"/><line x1="645.4" y1="61.50" x2="641.8" y2="61.50" stroke="#000" stroke-width="1.1"/><line x1="633.20" y1="263.8" x2="633.20" y2="260.2" stroke="#000" stroke-width="1.1"/><line x1="633.20" y1="2.0" x2="633.20" y2="5.6" stroke="#000" stroke-width="1.1"/><line x1="376.9" y1="13.90" x2="380.5" y2="13.90" stroke="#000" stroke-width="1.1"/><line x1="645.4" y1="13.90" x2="641.8" y2="13.90" stroke="#000" stroke-width="1.1"/><path clip-path="url(#cBL)" d="M7.86,0L-692.14,700M20.13,0L-679.87,700M32.40,0L-667.60,700M44.67,0L-655.33,700M56.94,0L-643.06,700M69.21,0L-630.79,700M81.48,0L-618.52,700M93.75,0L-606.25,700M106.02,0L-593.98,700M118.29,0L-581.71,700M130.56,0L-569.44,700M142.83,0L-557.17,700M155.10,0L-544.90,700M167.37,0L-532.63,700M179.64,0L-520.36,700M191.91,0L-508.09,700M204.18,0L-495.82,700M216.45,0L-483.55,700M228.72,0L-471.28,700M240.99,0L-459.01,700M253.26,0L-446.74,700M265.53,0L-434.47,700M277.80,0L-422.20,700M290.07,0L-409.93,700M302.34,0L-397.66,700M314.61,0L-385.39,700M326.88,0L-373.12,700M339.15,0L-360.85,700M351.42,0L-348.58,700M363.69,0L-336.31,700M375.96,0L-324.04,700M388.23,0L-311.77,700M400.50,0L-299.50,700M412.77,0L-287.23,700M425.04,0L-274.96,700M437.31,0L-262.69,700M449.58,0L-250.42,700M461.85,0L-238.15,700M474.12,0L-225.88,700M486.39,0L-213.61,700M498.66,0L-201.34,700M510.93,0L-189.07,700M523.20,0L-176.80,700M535.47,0L-164.53,700M547.74,0L-152.26,700M560.01,0L-139.99,700M572.28,0L-127.72,700M584.55,0L-115.45,700M596.82,0L-103.18,700M609.09,0L-90.91,700M621.36,0L-78.64,700M633.63,0L-66.37,700M645.90,0L-54.10,700M658.17,0L-41.83,700M670.44,0L-29.56,700M682.71,0L-17.29,700M694.98,0L-5.02,700M707.25,0L7.25,700M719.52,0L19.52,700M731.79,0L31.79,700M744.06,0L44.06,700M756.33,0L56.33,700M768.60,0L68.60,700M780.87,0L80.87,700M793.14,0L93.14,700M805.41,0L105.41,700M817.68,0L117.68,700M829.95,0L129.95,700M842.22,0L142.22,700M854.49,0L154.49,700M866.76,0L166.76,700M879.03,0L179.03,700M891.30,0L191.30,700M903.57,0L203.57,700M915.84,0L215.84,700M928.11,0L228.11,700M940.38,0L240.38,700M952.65,0L252.65,700M964.92,0L264.92,700M977.19,0L277.19,700M989.46,0L289.46,700M1001.73,0L301.73,700M1014.00,0L314.00,700M1026.27,0L326.27,700M1038.54,0L338.54,700M1050.81,0L350.81,700M1063.08,0L363.08,700M1075.35,0L375.35,700M1087.62,0L387.62,700M1099.89,0L399.89,700M1112.16,0L412.16,700M1124.43,0L424.43,700M1136.70,0L436.70,700M1148.97,0L448.97,700M1161.24,0L461.24,700M1173.51,0L473.51,700M1185.78,0L485.78,700M1198.05,0L498.05,700M1210.32,0L510.32,700M1222.59,0L522.59,700M1234.86,0L534.86,700M1247.13,0L547.13,700M1259.40,0L559.40,700M1271.67,0L571.67,700M1283.94,0L583.94,700M1296.21,0L596.21,700M1308.48,0L608.48,700M1320.75,0L620.75,700M1333.02,0L633.02,700M1345.29,0L645.29,700" stroke="#d2d2d2" stroke-width="1.2" stroke-dasharray="1.3 1.63" fill="none"/><g clip-path="url(#cBL)" fill="#d3d3d3"><circle cx="100.9" cy="500.4" r="3.3"/><circle cx="107.5" cy="501.0" r="3.3"/><circle cx="99.6" cy="509.0" r="3.3"/><circle cx="106.2" cy="510.3" r="3.3"/><circle cx="112.8" cy="506.3" r="3.3"/><circle cx="115.5" cy="514.3" r="3.3"/><circle cx="104.9" cy="516.9" r="3.3"/><circle cx="98.2" cy="516.9" r="3.3"/><circle cx="131.4" cy="489.8" r="3.3"/><circle cx="136.7" cy="495.7" r="3.3"/><circle cx="139.4" cy="498.4" r="3.3"/><circle cx="124.8" cy="498.4" r="3.3"/><circle cx="120.8" cy="503.7" r="3.3"/><circle cx="159.3" cy="499.7" r="3.3"/><circle cx="155.3" cy="507.7" r="3.3"/><circle cx="152.6" cy="514.3" r="3.3"/><circle cx="99.5" cy="513.5" r="3.3"/><circle cx="111.9" cy="513.5" r="3.3"/><circle cx="120.5" cy="511.0" r="3.3"/><circle cx="95.8" cy="518.5" r="3.3"/><circle cx="102.0" cy="519.7" r="3.3"/><circle cx="108.2" cy="520.9" r="3.3"/><circle cx="115.6" cy="517.2" r="3.3"/><circle cx="121.7" cy="516.0" r="3.3"/><circle cx="88.4" cy="524.6" r="3.3"/><circle cx="94.6" cy="524.6" r="3.3"/><circle cx="92.1" cy="529.6" r="3.3"/><circle cx="100.8" cy="533.3" r="3.3"/><circle cx="105.7" cy="534.5" r="3.3"/><circle cx="111.9" cy="528.3" r="3.3"/><circle cx="118.0" cy="523.4" r="3.3"/><circle cx="124.2" cy="519.7" r="3.3"/><circle cx="130.4" cy="516.0" r="3.3"/><circle cx="134.1" cy="511.0" r="3.3"/><circle cx="134.1" cy="523.4" r="3.3"/><circle cx="137.8" cy="517.2" r="3.3"/><circle cx="118.0" cy="535.7" r="3.3"/><circle cx="121.7" cy="538.2" r="3.3"/><circle cx="116.8" cy="543.1" r="3.3"/><circle cx="89.6" cy="546.9" r="3.3"/><circle cx="134.1" cy="546.9" r="3.3"/><circle cx="152.6" cy="541.9" r="3.3"/><circle cx="153.8" cy="524.6" r="3.3"/><circle cx="157.5" cy="516.0" r="3.3"/><circle cx="114.3" cy="548.1" r="3.3"/><circle cx="108.2" cy="549.3" r="3.3"/><circle cx="207.8" cy="486.5" r="3.3"/><circle cx="201.8" cy="501.1" r="3.3"/><circle cx="178.6" cy="506.4" r="3.3"/><circle cx="175.3" cy="515.7" r="3.3"/><circle cx="183.9" cy="515.1" r="3.3"/><circle cx="166.6" cy="514.4" r="3.3"/><circle cx="160.0" cy="517.0" r="3.3"/><circle cx="169.3" cy="503.8" r="3.3"/><circle cx="170.6" cy="491.8" r="3.3"/><circle cx="165.3" cy="495.8" r="3.3"/></g><path clip-path="url(#cBL)" d="M61.2,582.8L66.3,577.2L71.5,571.6L76.6,566.0L81.8,560.4L86.9,554.8L92.1,549.2L97.2,543.6L102.4,537.9L107.5,532.3L112.7,526.7L117.8,521.0L123.0,515.4L128.1,509.8L133.3,504.1L138.4,498.5L143.5,492.8L148.7,487.1L153.8,481.5L159.0,475.8L164.1,470.1L169.3,464.4L174.4,458.7L179.6,453.0L184.7,447.3L189.9,441.6L195.0,435.9L200.2,430.2L205.3,424.4L210.5,418.7L215.6,413.0L220.7,407.2L225.9,401.5L231.0,395.7L236.2,389.9L241.3,384.1L246.5,378.3L251.6,372.5L256.8,366.7L261.9,360.9L267.1,355.1L272.2,349.3L277.4,343.4L282.5,337.6L287.7,331.7L292.8,325.9L297.9,320.0L303.1,314.1L308.2,308.3L313.4,302.4L318.5,296.5L323.7,290.6L328.8,284.7L334.0,278.8L339.1,272.9L344.3,267.0L349.4,261.1L354.6,255.2L359.7,249.2L364.9,243.3L370.0,237.4L370.0,261.8L364.9,267.3L359.7,272.9L354.6,278.5L349.4,284.0L344.3,289.6L339.1,295.2L334.0,300.8L328.8,306.4L323.7,312.0L318.5,317.6L313.4,323.2L308.2,328.8L303.1,334.4L297.9,340.0L292.8,345.7L287.7,351.3L282.5,356.9L277.4,362.6L272.2,368.3L267.1,373.9L261.9,379.6L256.8,385.3L251.6,390.9L246.5,396.6L241.3,402.3L236.2,408.1L231.0,413.8L225.9,419.5L220.7,425.2L215.6,431.0L210.5,436.7L205.3,442.5L200.2,448.2L195.0,454.0L189.9,459.8L184.7,465.6L179.6,471.3L174.4,477.1L169.3,482.9L164.1,488.7L159.0,494.6L153.8,500.4L148.7,506.2L143.5,512.0L138.4,517.9L133.3,523.7L128.1,529.6L123.0,535.4L117.8,541.3L112.7,547.1L107.5,553.0L102.4,558.8L97.2,564.7L92.1,570.6L86.9,576.5L81.8,582.4L76.6,588.3L71.5,594.1L66.3,600.0L61.2,605.9Z" fill="#f57a6a" fill-opacity="0.27" stroke="#f57a6a" stroke-opacity="0.27" stroke-width="1.0"/><g clip-path="url(#cBL)" fill="#fff" stroke="#737373" stroke-width="1.25"><circle cx="144.0" cy="489.8" r="2.75"/><circle cx="205.7" cy="426.5" r="2.75"/><circle cx="123.0" cy="496.9" r="2.75"/><circle cx="188.5" cy="458.4" r="2.75"/><circle cx="160.6" cy="466.3" r="2.75"/><circle cx="191.1" cy="433.2" r="2.75"/><circle cx="225.6" cy="427.9" r="2.75"/><circle cx="226.9" cy="437.1" r="2.75"/><circle cx="161.7" cy="469.2" r="2.75"/><circle cx="147.3" cy="464.5" r="2.75"/><circle cx="258.4" cy="369.2" r="2.75"/><circle cx="180.5" cy="442.5" r="2.75"/><circle cx="224.3" cy="406.6" r="2.75"/><circle cx="265.0" cy="378.5" r="2.75"/><circle cx="188.5" cy="437.1" r="2.75"/><circle cx="164.9" cy="458.6" r="2.75"/><circle cx="204.4" cy="453.1" r="2.75"/><circle cx="166.7" cy="456.7" r="2.75"/><circle cx="293.1" cy="345.7" r="2.75"/><circle cx="200.4" cy="451.7" r="2.75"/><circle cx="215.0" cy="405.3" r="2.75"/><circle cx="126.8" cy="467.2" r="2.75"/><circle cx="135.4" cy="466.5" r="2.75"/><circle cx="279.8" cy="355.7" r="2.75"/><circle cx="219.9" cy="395.7" r="2.75"/><circle cx="242.5" cy="373.2" r="2.75"/><circle cx="157.9" cy="473.2" r="2.75"/><circle cx="154.6" cy="469.2" r="2.75"/><circle cx="250.4" cy="371.8" r="2.75"/><circle cx="207.0" cy="415.9" r="2.75"/><circle cx="181.2" cy="477.2" r="2.75"/><circle cx="121.3" cy="496.5" r="2.75"/><circle cx="169.9" cy="463.7" r="2.75"/><circle cx="223.9" cy="394.4" r="2.75"/><circle cx="165.9" cy="467.7" r="2.75"/><circle cx="228.3" cy="417.2" r="2.75"/><circle cx="177.2" cy="477.2" r="2.75"/><circle cx="234.2" cy="431.0" r="2.75"/><circle cx="270.3" cy="377.1" r="2.75"/><circle cx="227.2" cy="394.7" r="2.75"/><circle cx="148.7" cy="469.2" r="2.75"/><circle cx="155.2" cy="461.7" r="2.75"/><circle cx="187.1" cy="443.8" r="2.75"/><circle cx="180.5" cy="446.4" r="2.75"/><circle cx="253.1" cy="414.3" r="2.75"/><circle cx="161.9" cy="459.7" r="2.75"/><circle cx="249.5" cy="370.0" r="2.75"/><circle cx="208.4" cy="450.4" r="2.75"/><circle cx="128.1" cy="497.0" r="2.75"/><circle cx="219.0" cy="426.5" r="2.75"/><circle cx="225.2" cy="389.1" r="2.75"/><circle cx="173.3" cy="486.5" r="2.75"/><circle cx="250.4" cy="367.9" r="2.75"/><circle cx="177.9" cy="461.0" r="2.75"/><circle cx="211.0" cy="430.5" r="2.75"/><circle cx="203.1" cy="445.1" r="2.75"/><circle cx="221.6" cy="447.8" r="2.75"/><circle cx="164.0" cy="460.9" r="2.75"/><circle cx="185.8" cy="476.3" r="2.75"/><circle cx="195.1" cy="474.3" r="2.75"/><circle cx="273.6" cy="353.3" r="2.75"/><circle cx="183.2" cy="466.3" r="2.75"/><circle cx="111.5" cy="495.1" r="2.75"/><circle cx="165.2" cy="464.5" r="2.75"/><circle cx="196.4" cy="434.5" r="2.75"/><circle cx="171.2" cy="449.1" r="2.75"/><circle cx="154.0" cy="463.9" r="2.75"/><circle cx="165.9" cy="462.4" r="2.75"/><circle cx="132.1" cy="485.1" r="2.75"/><circle cx="215.0" cy="435.8" r="2.75"/><circle cx="239.8" cy="410.3" r="2.75"/><circle cx="171.2" cy="454.4" r="2.75"/><circle cx="146.0" cy="493.7" r="2.75"/><circle cx="164.3" cy="460.0" r="2.75"/><circle cx="223.7" cy="398.1" r="2.75"/><circle cx="134.7" cy="471.2" r="2.75"/><circle cx="231.7" cy="391.5" r="2.75"/><circle cx="112.2" cy="490.4" r="2.75"/><circle cx="288.1" cy="344.9" r="2.75"/><circle cx="230.6" cy="395.1" r="2.75"/><circle cx="259.7" cy="363.9" r="2.75"/><circle cx="226.5" cy="397.0" r="2.75"/><circle cx="193.8" cy="431.8" r="2.75"/><circle cx="266.3" cy="409.0" r="2.75"/><circle cx="254.4" cy="389.1" r="2.75"/><circle cx="120.9" cy="495.0" r="2.75"/><circle cx="209.7" cy="412.6" r="2.75"/><circle cx="196.4" cy="430.5" r="2.75"/><circle cx="226.9" cy="421.2" r="2.75"/><circle cx="201.5" cy="417.1" r="2.75"/><circle cx="241.7" cy="425.6" r="2.75"/><circle cx="120.3" cy="490.6" r="2.75"/><circle cx="159.3" cy="461.2" r="2.75"/><circle cx="118.8" cy="493.7" r="2.75"/><circle cx="173.2" cy="450.2" r="2.75"/><circle cx="124.3" cy="490.1" r="2.75"/><circle cx="206.7" cy="412.6" r="2.75"/><circle cx="276.9" cy="404.3" r="2.75"/><circle cx="303.8" cy="339.9" r="2.75"/><circle cx="216.3" cy="402.7" r="2.75"/><circle cx="212.4" cy="409.3" r="2.75"/><circle cx="234.5" cy="379.8" r="2.75"/><circle cx="181.1" cy="468.7" r="2.75"/><circle cx="231.8" cy="383.8" r="2.75"/><circle cx="168.6" cy="458.4" r="2.75"/><circle cx="229.2" cy="391.7" r="2.75"/><circle cx="159.3" cy="463.4" r="2.75"/><circle cx="115.9" cy="493.7" r="2.75"/><circle cx="231.8" cy="409.0" r="2.75"/><circle cx="215.0" cy="410.6" r="2.75"/><circle cx="161.7" cy="457.1" r="2.75"/><circle cx="203.1" cy="419.9" r="2.75"/><circle cx="180.1" cy="450.5" r="2.75"/><circle cx="275.6" cy="374.5" r="2.75"/><circle cx="242.5" cy="398.4" r="2.75"/><circle cx="192.5" cy="455.7" r="2.75"/><circle cx="167.3" cy="501.1" r="2.75"/><circle cx="178.9" cy="476.3" r="2.75"/><circle cx="201.7" cy="465.0" r="2.75"/><circle cx="153.3" cy="478.5" r="2.75"/><circle cx="261.0" cy="383.8" r="2.75"/><circle cx="116.2" cy="491.1" r="2.75"/><circle cx="248.1" cy="372.2" r="2.75"/><circle cx="220.3" cy="431.2" r="2.75"/><circle cx="111.5" cy="500.4" r="2.75"/><circle cx="176.5" cy="450.4" r="2.75"/><circle cx="251.7" cy="395.7" r="2.75"/><circle cx="177.2" cy="470.6" r="2.75"/><circle cx="216.3" cy="450.4" r="2.75"/><circle cx="239.8" cy="398.4" r="2.75"/><circle cx="183.9" cy="482.6" r="2.75"/><circle cx="153.3" cy="459.2" r="2.75"/><circle cx="275.6" cy="370.5" r="2.75"/><circle cx="155.4" cy="466.5" r="2.75"/><circle cx="180.5" cy="471.6" r="2.75"/><circle cx="224.7" cy="392.3" r="2.75"/><circle cx="199.1" cy="417.9" r="2.75"/><circle cx="193.8" cy="462.4" r="2.75"/><circle cx="142.7" cy="481.8" r="2.75"/><circle cx="157.5" cy="464.4" r="2.75"/><circle cx="175.0" cy="476.5" r="2.75"/><circle cx="269.0" cy="359.2" r="2.75"/><circle cx="204.0" cy="416.9" r="2.75"/><circle cx="212.4" cy="446.4" r="2.75"/><circle cx="255.7" cy="418.3" r="2.75"/><circle cx="246.4" cy="378.5" r="2.75"/><circle cx="208.4" cy="439.8" r="2.75"/><circle cx="196.4" cy="470.3" r="2.75"/><circle cx="237.1" cy="393.1" r="2.75"/><circle cx="239.8" cy="382.5" r="2.75"/><circle cx="122.1" cy="485.8" r="2.75"/><circle cx="176.7" cy="474.9" r="2.75"/><circle cx="220.3" cy="419.9" r="2.75"/><circle cx="140.0" cy="468.5" r="2.75"/><circle cx="235.8" cy="383.8" r="2.75"/><circle cx="246.4" cy="401.0" r="2.75"/><circle cx="146.1" cy="461.9" r="2.75"/><circle cx="201.0" cy="420.3" r="2.75"/><circle cx="175.2" cy="455.7" r="2.75"/><circle cx="184.5" cy="439.8" r="2.75"/><circle cx="173.9" cy="483.9" r="2.75"/><circle cx="253.1" cy="374.5" r="2.75"/><circle cx="213.3" cy="414.3" r="2.75"/><circle cx="124.1" cy="493.7" r="2.75"/><circle cx="199.1" cy="422.6" r="2.75"/><circle cx="189.8" cy="447.8" r="2.75"/><circle cx="226.5" cy="403.7" r="2.75"/><circle cx="235.3" cy="439.6" r="2.75"/></g><line clip-path="url(#cBL)" x1="59.50" y1="596.26" x2="373.70" y2="245.44" stroke="#000" stroke-width="2.8" stroke-linecap="butt"/><g clip-path="url(#cBL)"><line x1="147.9" y1="486.6" x2="147.9" y2="537.7" stroke="#bf1a1a" stroke-width="2.5"/><line x1="160.7" y1="469.2" x2="160.7" y2="511.2" stroke="#bf1a1a" stroke-width="2.5"/><line x1="172.9" y1="458.3" x2="172.9" y2="485.7" stroke="#bf1a1a" stroke-width="2.5"/><line x1="184.4" y1="443.7" x2="184.4" y2="463.8" stroke="#bf1a1a" stroke-width="2.5"/><line x1="197.5" y1="430.0" x2="197.5" y2="451.0" stroke="#bf1a1a" stroke-width="2.5"/><line x1="209.8" y1="418.0" x2="209.8" y2="439.6" stroke="#bf1a1a" stroke-width="2.5"/><line x1="221.9" y1="405.0" x2="221.9" y2="421.0" stroke="#bf1a1a" stroke-width="2.5"/><line x1="234.2" y1="393.3" x2="234.2" y2="408.4" stroke="#bf1a1a" stroke-width="2.5"/><line x1="246.0" y1="380.3" x2="246.0" y2="395.4" stroke="#bf1a1a" stroke-width="2.5"/><line x1="258.5" y1="369.6" x2="258.5" y2="384.7" stroke="#bf1a1a" stroke-width="2.5"/><circle cx="147.9" cy="501.5" r="5.7" fill="#fa8072" stroke="#c01a1a" stroke-width="1.3"/><circle cx="160.7" cy="485.7" r="5.7" fill="#fa8072" stroke="#c01a1a" stroke-width="1.3"/><circle cx="172.9" cy="468.7" r="5.7" fill="#fa8072" stroke="#c01a1a" stroke-width="1.3"/><circle cx="184.4" cy="455.2" r="5.7" fill="#fa8072" stroke="#c01a1a" stroke-width="1.3"/><circle cx="197.5" cy="441.4" r="5.7" fill="#fa8072" stroke="#c01a1a" stroke-width="1.3"/><circle cx="209.8" cy="425.0" r="5.7" fill="#fa8072" stroke="#c01a1a" stroke-width="1.3"/><circle cx="221.9" cy="412.2" r="5.7" fill="#fa8072" stroke="#c01a1a" stroke-width="1.3"/><circle cx="234.2" cy="401.5" r="5.7" fill="#fa8072" stroke="#c01a1a" stroke-width="1.3"/><circle cx="246.0" cy="387.0" r="5.7" fill="#fa8072" stroke="#c01a1a" stroke-width="1.3"/><circle cx="258.5" cy="378.8" r="5.7" fill="#fa8072" stroke="#c01a1a" stroke-width="1.3"/><circle cx="270.8" cy="366.5" r="5.7" fill="#fa8072" stroke="#c01a1a" stroke-width="1.3"/></g><rect x="223.6" y="476.2" width="118.9" height="68.5" rx="4" fill="#fff" fill-opacity="0.82" stroke="#767676" stroke-width="1.3"/><line x1="229.0" y1="488.00000000000006" x2="245.2" y2="488.00000000000006" stroke="#000" stroke-width="2.8"/><text x="251.7" y="493.20000000000005" font-size="14.35">fit to bins</text><circle cx="237.29999999999998" cy="509.6" r="2.75" fill="#fff" stroke="#7b7b7b" stroke-width="1.15"/><text x="251.7" y="514.8000000000001" font-size="14.35">azimuthal avg.</text><circle cx="237.29999999999998" cy="531.2" r="3.3" fill="#d3d3d3"/><text x="251.7" y="536.4000000000001" font-size="14.35">low S/N avg.</text><rect x="87.4" y="298.6" width="152.1" height="22.3" rx="4" fill="#f9d0cb" fill-opacity="0.85" stroke="#e6a29c" stroke-width="1.1"/><text x="91.7" y="314.1" font-weight="bold" font-size="14.7">CO (2-1) vs IRAC 8<tspan font-weight="normal" font-style="italic">μ</tspan>m</text><rect x="81.2" y="290.1" width="268.80" height="261.50" fill="none" stroke="#000" stroke-width="1.5"/><line x1="93.42" y1="551.6" x2="93.42" y2="548.0" stroke="#000" stroke-width="1.1"/><line x1="93.42" y1="290.1" x2="93.42" y2="293.70000000000005" stroke="#000" stroke-width="1.1"/><line x1="81.2" y1="539.71" x2="84.8" y2="539.71" stroke="#000" stroke-width="1.1"/><line x1="350.0" y1="539.71" x2="346.4" y2="539.71" stroke="#000" stroke-width="1.1"/><line x1="142.29" y1="551.6" x2="142.29" y2="548.0" stroke="#000" stroke-width="1.1"/><line x1="142.29" y1="290.1" x2="142.29" y2="293.70000000000005" stroke="#000" stroke-width="1.1"/><line x1="81.2" y1="492.17" x2="84.8" y2="492.17" stroke="#000" stroke-width="1.1"/><line x1="350.0" y1="492.17" x2="346.4" y2="492.17" stroke="#000" stroke-width="1.1"/><line x1="191.16" y1="551.6" x2="191.16" y2="548.0" stroke="#000" stroke-width="1.1"/><line x1="191.16" y1="290.1" x2="191.16" y2="293.70000000000005" stroke="#000" stroke-width="1.1"/><line x1="81.2" y1="444.62" x2="84.8" y2="444.62" stroke="#000" stroke-width="1.1"/><line x1="350.0" y1="444.62" x2="346.4" y2="444.62" stroke="#000" stroke-width="1.1"/><line x1="240.04" y1="551.6" x2="240.04" y2="548.0" stroke="#000" stroke-width="1.1"/><line x1="240.04" y1="290.1" x2="240.04" y2="293.70000000000005" stroke="#000" stroke-width="1.1"/><line x1="81.2" y1="397.08" x2="84.8" y2="397.08" stroke="#000" stroke-width="1.1"/><line x1="350.0" y1="397.08" x2="346.4" y2="397.08" stroke="#000" stroke-width="1.1"/><line x1="288.91" y1="551.6" x2="288.91" y2="548.0" stroke="#000" stroke-width="1.1"/><line x1="288.91" y1="290.1" x2="288.91" y2="293.70000000000005" stroke="#000" stroke-width="1.1"/><line x1="81.2" y1="349.53" x2="84.8" y2="349.53" stroke="#000" stroke-width="1.1"/><line x1="350.0" y1="349.53" x2="346.4" y2="349.53" stroke="#000" stroke-width="1.1"/><line x1="337.78" y1="551.6" x2="337.78" y2="548.0" stroke="#000" stroke-width="1.1"/><line x1="337.78" y1="290.1" x2="337.78" y2="293.70000000000005" stroke="#000" stroke-width="1.1"/><line x1="81.2" y1="301.99" x2="84.8" y2="301.99" stroke="#000" stroke-width="1.1"/><line x1="350.0" y1="301.99" x2="346.4" y2="301.99" stroke="#000" stroke-width="1.1"/><text x="76.2" y="544.4" text-anchor="end"><tspan font-size="17" dy="1.4">−</tspan><tspan dy="-1.4" dx="0.6">2</tspan></text><text x="76.2" y="496.9" text-anchor="end"><tspan font-size="17" dy="1.4">−</tspan><tspan dy="-1.4" dx="0.6">1</tspan></text><text x="77.4" y="449.3" text-anchor="end">0</text><text x="77.4" y="401.8" text-anchor="end">1</text><text x="77.4" y="354.2" text-anchor="end">2</text><text x="77.4" y="306.7" text-anchor="end">3</text><text x="92.4" y="568.4" text-anchor="middle"><tspan font-size="17" dy="1.4">−</tspan><tspan dy="-1.4" dx="0.6">2</tspan></text><text x="141.3" y="568.4" text-anchor="middle"><tspan font-size="17" dy="1.4">−</tspan><tspan dy="-1.4" dx="0.6">1</tspan></text><text x="191.2" y="568.4" text-anchor="middle">0</text><text x="240.0" y="568.4" text-anchor="middle">1</text><text x="288.9" y="568.4" text-anchor="middle">2</text><text x="337.8" y="568.4" text-anchor="middle">3</text><path clip-path="url(#cBR)" d="M7.86,0L-692.14,700M20.13,0L-679.87,700M32.40,0L-667.60,700M44.67,0L-655.33,700M56.94,0L-643.06,700M69.21,0L-630.79,700M81.48,0L-618.52,700M93.75,0L-606.25,700M106.02,0L-593.98,700M118.29,0L-581.71,700M130.56,0L-569.44,700M142.83,0L-557.17,700M155.10,0L-544.90,700M167.37,0L-532.63,700M179.64,0L-520.36,700M191.91,0L-508.09,700M204.18,0L-495.82,700M216.45,0L-483.55,700M228.72,0L-471.28,700M240.99,0L-459.01,700M253.26,0L-446.74,700M265.53,0L-434.47,700M277.80,0L-422.20,700M290.07,0L-409.93,700M302.34,0L-397.66,700M314.61,0L-385.39,700M326.88,0L-373.12,700M339.15,0L-360.85,700M351.42,0L-348.58,700M363.69,0L-336.31,700M375.96,0L-324.04,700M388.23,0L-311.77,700M400.50,0L-299.50,700M412.77,0L-287.23,700M425.04,0L-274.96,700M437.31,0L-262.69,700M449.58,0L-250.42,700M461.85,0L-238.15,700M474.12,0L-225.88,700M486.39,0L-213.61,700M498.66,0L-201.34,700M510.93,0L-189.07,700M523.20,0L-176.80,700M535.47,0L-164.53,700M547.74,0L-152.26,700M560.01,0L-139.99,700M572.28,0L-127.72,700M584.55,0L-115.45,700M596.82,0L-103.18,700M609.09,0L-90.91,700M621.36,0L-78.64,700M633.63,0L-66.37,700M645.90,0L-54.10,700M658.17,0L-41.83,700M670.44,0L-29.56,700M682.71,0L-17.29,700M694.98,0L-5.02,700M707.25,0L7.25,700M719.52,0L19.52,700M731.79,0L31.79,700M744.06,0L44.06,700M756.33,0L56.33,700M768.60,0L68.60,700M780.87,0L80.87,700M793.14,0L93.14,700M805.41,0L105.41,700M817.68,0L117.68,700M829.95,0L129.95,700M842.22,0L142.22,700M854.49,0L154.49,700M866.76,0L166.76,700M879.03,0L179.03,700M891.30,0L191.30,700M903.57,0L203.57,700M915.84,0L215.84,700M928.11,0L228.11,700M940.38,0L240.38,700M952.65,0L252.65,700M964.92,0L264.92,700M977.19,0L277.19,700M989.46,0L289.46,700M1001.73,0L301.73,700M1014.00,0L314.00,700M1026.27,0L326.27,700M1038.54,0L338.54,700M1050.81,0L350.81,700M1063.08,0L363.08,700M1075.35,0L375.35,700M1087.62,0L387.62,700M1099.89,0L399.89,700M1112.16,0L412.16,700M1124.43,0L424.43,700M1136.70,0L436.70,700M1148.97,0L448.97,700M1161.24,0L461.24,700M1173.51,0L473.51,700M1185.78,0L485.78,700M1198.05,0L498.05,700M1210.32,0L510.32,700M1222.59,0L522.59,700M1234.86,0L534.86,700M1247.13,0L547.13,700M1259.40,0L559.40,700M1271.67,0L571.67,700M1283.94,0L583.94,700M1296.21,0L596.21,700M1308.48,0L608.48,700M1320.75,0L620.75,700M1333.02,0L633.02,700M1345.29,0L645.29,700" stroke="#d2d2d2" stroke-width="1.2" stroke-dasharray="1.3 1.63" fill="none"/><g clip-path="url(#cBR)" fill="#d3d3d3"><circle cx="395.2" cy="498.4" r="3.3"/><circle cx="401.9" cy="501.0" r="3.3"/><circle cx="408.5" cy="498.4" r="3.3"/><circle cx="413.8" cy="497.0" r="3.3"/><circle cx="421.8" cy="491.7" r="3.3"/><circle cx="425.8" cy="498.4" r="3.3"/><circle cx="417.8" cy="502.4" r="3.3"/><circle cx="411.2" cy="505.0" r="3.3"/><circle cx="401.9" cy="509.0" r="3.3"/><circle cx="389.9" cy="511.6" r="3.3"/><circle cx="396.6" cy="514.3" r="3.3"/><circle cx="404.5" cy="511.6" r="3.3"/><circle cx="412.5" cy="514.3" r="3.3"/><circle cx="420.5" cy="509.0" r="3.3"/><circle cx="428.4" cy="506.3" r="3.3"/><circle cx="433.7" cy="511.6" r="3.3"/><circle cx="439.0" cy="514.3" r="3.3"/><circle cx="449.6" cy="514.3" r="3.3"/><circle cx="454.9" cy="511.6" r="3.3"/><circle cx="408.5" cy="490.4" r="3.3"/><circle cx="398.8" cy="499.7" r="3.3"/><circle cx="422.4" cy="498.3" r="3.3"/><circle cx="418.3" cy="513.6" r="3.3"/><circle cx="423.8" cy="510.8" r="3.3"/><circle cx="426.6" cy="515.0" r="3.3"/><circle cx="430.8" cy="513.6" r="3.3"/><circle cx="436.3" cy="510.8" r="3.3"/><circle cx="433.6" cy="517.8" r="3.3"/><circle cx="391.9" cy="521.9" r="3.3"/><circle cx="398.8" cy="523.3" r="3.3"/><circle cx="407.2" cy="520.6" r="3.3"/><circle cx="414.1" cy="519.2" r="3.3"/><circle cx="419.7" cy="524.7" r="3.3"/><circle cx="425.2" cy="523.3" r="3.3"/><circle cx="428.0" cy="528.9" r="3.3"/><circle cx="429.4" cy="533.1" r="3.3"/><circle cx="436.3" cy="524.7" r="3.3"/><circle cx="440.5" cy="530.3" r="3.3"/><circle cx="447.4" cy="524.7" r="3.3"/><circle cx="455.8" cy="517.8" r="3.3"/><circle cx="459.9" cy="513.6" r="3.3"/><circle cx="464.1" cy="517.8" r="3.3"/><circle cx="453.0" cy="526.1" r="3.3"/><circle cx="451.6" cy="534.4" r="3.3"/><circle cx="455.8" cy="542.8" r="3.3"/><circle cx="448.8" cy="544.2" r="3.3"/><circle cx="414.1" cy="530.3" r="3.3"/><circle cx="412.7" cy="535.8" r="3.3"/><circle cx="405.8" cy="537.2" r="3.3"/><circle cx="401.6" cy="540.0" r="3.3"/><circle cx="394.7" cy="535.8" r="3.3"/><circle cx="422.4" cy="542.8" r="3.3"/><circle cx="411.3" cy="546.9" r="3.3"/><circle cx="401.6" cy="546.9" r="3.3"/><circle cx="425.2" cy="548.3" r="3.3"/><circle cx="439.1" cy="542.8" r="3.3"/><circle cx="390.5" cy="542.8" r="3.3"/><circle cx="441.9" cy="545.6" r="3.3"/><circle cx="481.1" cy="470.3" r="3.3"/><circle cx="528.1" cy="503.7" r="3.3"/><circle cx="524.9" cy="510.0" r="3.3"/><circle cx="521.7" cy="523.9" r="3.3"/><circle cx="531.3" cy="531.3" r="3.3"/><circle cx="567.5" cy="543.0" r="3.3"/><circle cx="467.9" cy="489.7" r="3.3"/><circle cx="480.8" cy="482.9" r="3.3"/><circle cx="474.7" cy="503.3" r="3.3"/><circle cx="473.3" cy="508.1" r="3.3"/><circle cx="477.4" cy="511.5" r="3.3"/><circle cx="484.2" cy="502.6" r="3.3"/><circle cx="489.7" cy="501.3" r="3.3"/><circle cx="499.9" cy="486.3" r="3.3"/><circle cx="504.6" cy="504.7" r="3.3"/><circle cx="460.4" cy="504.0" r="3.3"/><circle cx="467.2" cy="514.9" r="3.3"/><circle cx="470.0" cy="516.9" r="3.3"/><circle cx="456.4" cy="525.7" r="3.3"/><circle cx="489.0" cy="525.7" r="3.3"/><circle cx="494.4" cy="526.4" r="3.3"/><circle cx="499.2" cy="519.6" r="3.3"/><circle cx="483.5" cy="533.2" r="3.3"/><circle cx="493.1" cy="538.0" r="3.3"/><circle cx="501.2" cy="542.0" r="3.3"/><circle cx="503.9" cy="547.5" r="3.3"/><circle cx="472.0" cy="548.2" r="3.3"/></g><path clip-path="url(#cBR)" d="M356.9,552.7L362.0,548.2L367.2,543.7L372.3,539.2L377.5,534.7L382.6,530.2L387.8,525.7L392.9,521.1L398.0,516.6L403.2,512.1L408.3,507.6L413.5,503.0L418.6,498.5L423.7,493.9L428.9,489.4L434.0,484.8L439.2,480.2L444.3,475.7L449.4,471.1L454.6,466.5L459.7,461.9L464.9,457.3L470.0,452.6L475.2,448.0L480.3,443.4L485.4,438.7L490.6,434.1L495.7,429.4L500.9,424.7L506.0,420.0L511.1,415.3L516.3,410.6L521.4,405.9L526.6,401.2L531.7,396.4L536.9,391.7L542.0,387.0L547.1,382.2L552.3,377.5L557.4,372.7L562.6,368.0L567.7,363.2L572.8,358.4L578.0,353.7L583.1,348.9L588.3,344.1L593.4,339.3L598.6,334.5L603.7,329.7L608.8,324.9L614.0,320.1L619.1,315.3L624.3,310.5L629.4,305.7L634.5,300.8L639.7,296.0L644.8,291.2L650.0,286.4L655.1,281.5L660.3,276.7L665.4,271.9L665.4,292.5L660.3,297.0L655.1,301.6L650.0,306.2L644.8,310.8L639.7,315.3L634.5,319.9L629.4,324.5L624.3,329.1L619.1,333.7L614.0,338.3L608.8,342.9L603.7,347.5L598.6,352.1L593.4,356.8L588.3,361.4L583.1,366.0L578.0,370.6L572.8,375.3L567.7,379.9L562.6,384.6L557.4,389.2L552.3,393.9L547.1,398.5L542.0,403.2L536.9,407.9L531.7,412.5L526.6,417.2L521.4,421.9L516.3,426.6L511.1,431.3L506.0,436.0L500.9,440.7L495.7,445.5L490.6,450.2L485.4,455.0L480.3,459.7L475.2,464.5L470.0,469.3L464.9,474.1L459.7,478.9L454.6,483.7L449.4,488.5L444.3,493.3L439.2,498.1L434.0,503.0L428.9,507.8L423.7,512.7L418.6,517.5L413.5,522.4L408.3,527.3L403.2,532.2L398.0,537.0L392.9,541.9L387.8,546.8L382.6,551.7L377.5,556.6L372.3,561.5L367.2,566.5L362.0,571.4L356.9,576.3Z" fill="#f57a6a" fill-opacity="0.27" stroke="#f57a6a" stroke-opacity="0.27" stroke-width="1.0"/><g clip-path="url(#cBR)" fill="#fff" stroke="#737373" stroke-width="1.25"><circle cx="473.2" cy="458.4" r="2.75"/><circle cx="465.2" cy="450.4" r="2.75"/><circle cx="400.6" cy="490.4" r="2.75"/><circle cx="542.0" cy="430.4" r="2.75"/><circle cx="502.4" cy="405.3" r="2.75"/><circle cx="602.3" cy="344.9" r="2.75"/><circle cx="491.7" cy="415.3" r="2.75"/><circle cx="525.2" cy="387.8" r="2.75"/><circle cx="486.4" cy="417.9" r="2.75"/><circle cx="475.8" cy="438.5" r="2.75"/><circle cx="503.7" cy="469.0" r="2.75"/><circle cx="478.5" cy="431.8" r="2.75"/><circle cx="578.3" cy="409.0" r="2.75"/><circle cx="504.8" cy="414.9" r="2.75"/><circle cx="530.5" cy="387.1" r="2.75"/><circle cx="504.9" cy="410.2" r="2.75"/><circle cx="433.9" cy="465.7" r="2.75"/><circle cx="489.1" cy="443.8" r="2.75"/><circle cx="466.5" cy="429.9" r="2.75"/><circle cx="486.4" cy="450.4" r="2.75"/><circle cx="538.3" cy="425.8" r="2.75"/><circle cx="512.3" cy="430.5" r="2.75"/><circle cx="506.3" cy="413.3" r="2.75"/><circle cx="429.1" cy="481.8" r="2.75"/><circle cx="463.2" cy="485.0" r="2.75"/><circle cx="533.2" cy="409.0" r="2.75"/><circle cx="585.5" cy="368.3" r="2.75"/><circle cx="487.6" cy="482.9" r="2.75"/><circle cx="547.8" cy="399.7" r="2.75"/><circle cx="461.5" cy="453.0" r="2.75"/><circle cx="514.8" cy="435.9" r="2.75"/><circle cx="518.6" cy="398.4" r="2.75"/><circle cx="473.8" cy="442.5" r="2.75"/><circle cx="454.4" cy="461.7" r="2.75"/><circle cx="620.6" cy="339.8" r="2.75"/><circle cx="529.2" cy="416.9" r="2.75"/><circle cx="556.1" cy="372.2" r="2.75"/><circle cx="516.5" cy="396.7" r="2.75"/><circle cx="486.4" cy="475.0" r="2.75"/><circle cx="442.7" cy="469.0" r="2.75"/><circle cx="474.5" cy="422.6" r="2.75"/><circle cx="483.8" cy="426.5" r="2.75"/><circle cx="503.7" cy="443.8" r="2.75"/><circle cx="490.4" cy="478.3" r="2.75"/><circle cx="447.0" cy="487.8" r="2.75"/><circle cx="539.8" cy="378.5" r="2.75"/><circle cx="470.9" cy="485.4" r="2.75"/><circle cx="593.6" cy="355.2" r="2.75"/><circle cx="442.0" cy="467.0" r="2.75"/><circle cx="459.9" cy="491.4" r="2.75"/><circle cx="501.0" cy="465.0" r="2.75"/><circle cx="448.0" cy="471.6" r="2.75"/><circle cx="463.9" cy="443.8" r="2.75"/><circle cx="434.9" cy="497.6" r="2.75"/><circle cx="573.0" cy="393.7" r="2.75"/><circle cx="517.2" cy="383.8" r="2.75"/><circle cx="454.9" cy="501.0" r="2.75"/><circle cx="499.7" cy="410.0" r="2.75"/><circle cx="460.9" cy="459.9" r="2.75"/><circle cx="522.6" cy="395.7" r="2.75"/><circle cx="509.0" cy="470.3" r="2.75"/><circle cx="551.7" cy="403.7" r="2.75"/><circle cx="448.0" cy="465.0" r="2.75"/><circle cx="458.3" cy="458.7" r="2.75"/><circle cx="432.4" cy="491.7" r="2.75"/><circle cx="425.8" cy="499.0" r="2.75"/><circle cx="534.5" cy="390.4" r="2.75"/><circle cx="520.0" cy="392.2" r="2.75"/><circle cx="443.0" cy="463.9" r="2.75"/><circle cx="428.4" cy="495.1" r="2.75"/><circle cx="516.5" cy="440.7" r="2.75"/><circle cx="439.7" cy="465.2" r="2.75"/><circle cx="447.0" cy="461.2" r="2.75"/><circle cx="445.6" cy="464.1" r="2.75"/><circle cx="518.8" cy="432.6" r="2.75"/><circle cx="475.8" cy="454.4" r="2.75"/><circle cx="510.6" cy="397.0" r="2.75"/><circle cx="508.0" cy="403.7" r="2.75"/><circle cx="590.3" cy="403.9" r="2.75"/><circle cx="514.1" cy="438.8" r="2.75"/><circle cx="526.5" cy="383.8" r="2.75"/><circle cx="511.6" cy="406.6" r="2.75"/><circle cx="503.1" cy="414.5" r="2.75"/><circle cx="457.2" cy="495.6" r="2.75"/><circle cx="451.9" cy="462.4" r="2.75"/><circle cx="549.1" cy="377.1" r="2.75"/><circle cx="513.2" cy="461.1" r="2.75"/><circle cx="542.5" cy="375.2" r="2.75"/><circle cx="562.4" cy="390.4" r="2.75"/><circle cx="441.7" cy="459.9" r="2.75"/><circle cx="572.3" cy="359.2" r="2.75"/><circle cx="515.9" cy="394.4" r="2.75"/><circle cx="559.5" cy="367.2" r="2.75"/><circle cx="511.8" cy="398.9" r="2.75"/><circle cx="514.3" cy="434.8" r="2.75"/><circle cx="507.6" cy="400.2" r="2.75"/><circle cx="529.6" cy="440.3" r="2.75"/><circle cx="495.7" cy="462.4" r="2.75"/><circle cx="450.4" cy="461.9" r="2.75"/><circle cx="449.6" cy="505.0" r="2.75"/><circle cx="497.0" cy="453.1" r="2.75"/><circle cx="440.5" cy="467.9" r="2.75"/><circle cx="531.1" cy="418.7" r="2.75"/><circle cx="534.5" cy="415.6" r="2.75"/><circle cx="456.3" cy="448.0" r="2.75"/><circle cx="561.0" cy="385.1" r="2.75"/><circle cx="537.1" cy="380.5" r="2.75"/><circle cx="444.4" cy="465.9" r="2.75"/><circle cx="501.0" cy="413.3" r="2.75"/><circle cx="558.4" cy="370.5" r="2.75"/><circle cx="491.1" cy="421.9" r="2.75"/><circle cx="556.6" cy="437.7" r="2.75"/><circle cx="545.1" cy="405.0" r="2.75"/><circle cx="444.3" cy="485.1" r="2.75"/><circle cx="461.2" cy="466.3" r="2.75"/><circle cx="415.8" cy="470.5" r="2.75"/><circle cx="502.4" cy="474.3" r="2.75"/><circle cx="425.1" cy="467.2" r="2.75"/><circle cx="565.7" cy="430.4" r="2.75"/><circle cx="487.8" cy="461.0" r="2.75"/><circle cx="515.7" cy="398.8" r="2.75"/><circle cx="463.9" cy="471.6" r="2.75"/><circle cx="537.1" cy="406.3" r="2.75"/><circle cx="473.2" cy="463.7" r="2.75"/><circle cx="514.3" cy="458.4" r="2.75"/><circle cx="445.7" cy="474.5" r="2.75"/><circle cx="513.3" cy="389.1" r="2.75"/><circle cx="456.2" cy="454.9" r="2.75"/><circle cx="475.8" cy="478.3" r="2.75"/><circle cx="552.4" cy="367.9" r="2.75"/><circle cx="490.4" cy="471.0" r="2.75"/><circle cx="601.6" cy="361.7" r="2.75"/><circle cx="516.9" cy="427.9" r="2.75"/><circle cx="509.7" cy="417.2" r="2.75"/><circle cx="435.0" cy="489.1" r="2.75"/><circle cx="453.7" cy="458.7" r="2.75"/><circle cx="408.5" cy="485.8" r="2.75"/><circle cx="486.3" cy="479.5" r="2.75"/><circle cx="505.8" cy="409.8" r="2.75"/><circle cx="474.5" cy="471.6" r="2.75"/><circle cx="470.5" cy="476.9" r="2.75"/><circle cx="453.6" cy="459.9" r="2.75"/><circle cx="526.5" cy="446.5" r="2.75"/><circle cx="584.8" cy="353.7" r="2.75"/><circle cx="470.5" cy="434.5" r="2.75"/><circle cx="502.7" cy="410.3" r="2.75"/><circle cx="521.9" cy="421.8" r="2.75"/><circle cx="471.3" cy="485.3" r="2.75"/><circle cx="438.4" cy="485.8" r="2.75"/><circle cx="493.9" cy="453.1" r="2.75"/><circle cx="517.5" cy="400.6" r="2.75"/><circle cx="553.1" cy="416.3" r="2.75"/><circle cx="433.7" cy="466.5" r="2.75"/><circle cx="471.3" cy="438.1" r="2.75"/><circle cx="567.5" cy="419.4" r="2.75"/><circle cx="521.2" cy="390.4" r="2.75"/><circle cx="532.7" cy="388.4" r="2.75"/><circle cx="558.4" cy="414.3" r="2.75"/><circle cx="516.7" cy="391.7" r="2.75"/><circle cx="491.5" cy="419.1" r="2.75"/><circle cx="523.5" cy="390.6" r="2.75"/><circle cx="531.0" cy="385.3" r="2.75"/><circle cx="451.6" cy="465.2" r="2.75"/><circle cx="450.8" cy="463.2" r="2.75"/><circle cx="518.3" cy="465.0" r="2.75"/><circle cx="473.8" cy="478.8" r="2.75"/><circle cx="514.3" cy="402.7" r="2.75"/><circle cx="457.7" cy="455.1" r="2.75"/><circle cx="516.9" cy="437.1" r="2.75"/><circle cx="458.0" cy="456.8" r="2.75"/><circle cx="485.1" cy="455.7" r="2.75"/><circle cx="557.0" cy="401.0" r="2.75"/><circle cx="467.9" cy="439.8" r="2.75"/><circle cx="502.7" cy="405.2" r="2.75"/><circle cx="439.6" cy="468.7" r="2.75"/><circle cx="457.2" cy="459.7" r="2.75"/><circle cx="470.0" cy="483.6" r="2.75"/><circle cx="512.6" cy="417.2" r="2.75"/><circle cx="465.9" cy="476.8" r="2.75"/><circle cx="541.9" cy="449.6" r="2.75"/><circle cx="509.0" cy="441.1" r="2.75"/><circle cx="451.1" cy="461.0" r="2.75"/><circle cx="521.0" cy="400.6" r="2.75"/><circle cx="505.3" cy="406.3" r="2.75"/><circle cx="545.6" cy="424.9" r="2.75"/><circle cx="512.6" cy="400.8" r="2.75"/><circle cx="468.9" cy="478.4" r="2.75"/><circle cx="427.8" cy="468.5" r="2.75"/><circle cx="561.0" cy="367.9" r="2.75"/><circle cx="525.9" cy="390.9" r="2.75"/><circle cx="442.2" cy="461.3" r="2.75"/><circle cx="522.7" cy="390.5" r="2.75"/><circle cx="554.4" cy="371.8" r="2.75"/><circle cx="434.8" cy="465.1" r="2.75"/><circle cx="473.3" cy="484.3" r="2.75"/><circle cx="493.1" cy="455.7" r="2.75"/><circle cx="456.3" cy="456.6" r="2.75"/><circle cx="451.0" cy="468.5" r="2.75"/><circle cx="581.2" cy="365.4" r="2.75"/><circle cx="513.7" cy="398.3" r="2.75"/><circle cx="457.6" cy="451.9" r="2.75"/><circle cx="419.1" cy="485.1" r="2.75"/><circle cx="507.4" cy="406.1" r="2.75"/><circle cx="482.5" cy="417.2" r="2.75"/><circle cx="448.3" cy="467.4" r="2.75"/><circle cx="503.3" cy="463.5" r="2.75"/><circle cx="502.5" cy="410.6" r="2.75"/><circle cx="499.7" cy="450.4" r="2.75"/><circle cx="485.1" cy="434.5" r="2.75"/><circle cx="388.0" cy="495.1" r="2.75"/><circle cx="436.4" cy="468.5" r="2.75"/><circle cx="518.8" cy="443.4" r="2.75"/><circle cx="541.9" cy="440.3" r="2.75"/><circle cx="566.6" cy="367.6" r="2.75"/><circle cx="533.2" cy="385.1" r="2.75"/><circle cx="495.7" cy="419.9" r="2.75"/><circle cx="563.7" cy="364.5" r="2.75"/><circle cx="441.5" cy="470.7" r="2.75"/><circle cx="461.2" cy="455.7" r="2.75"/><circle cx="483.8" cy="421.2" r="2.75"/><circle cx="558.8" cy="365.3" r="2.75"/></g><line clip-path="url(#cBR)" x1="337.20" y1="582.51" x2="684.70" y2="264.49" stroke="#000" stroke-width="2.8" stroke-linecap="butt"/><g clip-path="url(#cBR)"><line x1="443.6" y1="469.7" x2="443.6" y2="543.0" stroke="#bf1a1a" stroke-width="2.5"/><line x1="456.1" y1="464.2" x2="456.1" y2="505.7" stroke="#bf1a1a" stroke-width="2.5"/><line x1="468.1" y1="449.3" x2="468.1" y2="483.3" stroke="#bf1a1a" stroke-width="2.5"/><line x1="480.2" y1="436.0" x2="480.2" y2="464.2" stroke="#bf1a1a" stroke-width="2.5"/><line x1="492.9" y1="424.9" x2="492.9" y2="449.8" stroke="#bf1a1a" stroke-width="2.5"/><line x1="504.6" y1="415.0" x2="504.6" y2="446.0" stroke="#bf1a1a" stroke-width="2.5"/><line x1="516.7" y1="404.8" x2="516.7" y2="420.0" stroke="#bf1a1a" stroke-width="2.5"/><line x1="528.8" y1="393.9" x2="528.8" y2="410.3" stroke="#bf1a1a" stroke-width="2.5"/><line x1="541.1" y1="384.7" x2="541.1" y2="405.7" stroke="#bf1a1a" stroke-width="2.5"/><line x1="553.3" y1="373.8" x2="553.3" y2="403.9" stroke="#bf1a1a" stroke-width="2.5"/><line x1="565.7" y1="368.0" x2="565.7" y2="419.4" stroke="#bf1a1a" stroke-width="2.5"/><circle cx="443.6" cy="498.2" r="5.7" fill="#fa8072" stroke="#c01a1a" stroke-width="1.3"/><circle cx="456.1" cy="476.4" r="5.7" fill="#fa8072" stroke="#c01a1a" stroke-width="1.3"/><circle cx="468.1" cy="464.2" r="5.7" fill="#fa8072" stroke="#c01a1a" stroke-width="1.3"/><circle cx="480.2" cy="446.5" r="5.7" fill="#fa8072" stroke="#c01a1a" stroke-width="1.3"/><circle cx="492.9" cy="437.3" r="5.7" fill="#fa8072" stroke="#c01a1a" stroke-width="1.3"/><circle cx="504.6" cy="422.9" r="5.7" fill="#fa8072" stroke="#c01a1a" stroke-width="1.3"/><circle cx="516.7" cy="412.0" r="5.7" fill="#fa8072" stroke="#c01a1a" stroke-width="1.3"/><circle cx="528.8" cy="401.8" r="5.7" fill="#fa8072" stroke="#c01a1a" stroke-width="1.3"/><circle cx="541.1" cy="392.4" r="5.7" fill="#fa8072" stroke="#c01a1a" stroke-width="1.3"/><circle cx="553.3" cy="382.9" r="5.7" fill="#fa8072" stroke="#c01a1a" stroke-width="1.3"/><circle cx="565.7" cy="377.1" r="5.7" fill="#fa8072" stroke="#c01a1a" stroke-width="1.3"/><circle cx="577.9" cy="376.5" r="5.7" fill="#fa8072" stroke="#c01a1a" stroke-width="1.3"/></g><rect x="519.3" y="476.2" width="118.9" height="68.5" rx="4" fill="#fff" fill-opacity="0.82" stroke="#767676" stroke-width="1.3"/><line x1="524.6999999999999" y1="488.00000000000006" x2="540.9" y2="488.00000000000006" stroke="#000" stroke-width="2.8"/><text x="547.4" y="493.20000000000005" font-size="14.35">fit to bins</text><circle cx="533.0" cy="509.6" r="2.75" fill="#fff" stroke="#7b7b7b" stroke-width="1.15"/><text x="547.4" y="514.8000000000001" font-size="14.35">azimuthal avg.</text><circle cx="533.0" cy="531.2" r="3.3" fill="#d3d3d3"/><text x="547.4" y="536.4000000000001" font-size="14.35">low S/N avg.</text><rect x="383" y="298.9" width="159" height="22.2" rx="4" fill="#f9d0cb" fill-opacity="0.85" stroke="#e6a29c" stroke-width="1.1"/><text x="387.3" y="314.4" font-weight="bold" font-size="14.7">CO (2-1) vs MIPS 24<tspan font-weight="normal" font-style="italic">μ</tspan>m</text><rect x="376.9" y="290.1" width="268.50" height="261.50" fill="none" stroke="#000" stroke-width="1.5"/><line x1="389.10" y1="551.6" x2="389.10" y2="548.0" stroke="#000" stroke-width="1.1"/><line x1="389.10" y1="290.1" x2="389.10" y2="293.70000000000005" stroke="#000" stroke-width="1.1"/><line x1="376.9" y1="539.71" x2="380.5" y2="539.71" stroke="#000" stroke-width="1.1"/><line x1="645.4" y1="539.71" x2="641.8" y2="539.71" stroke="#000" stroke-width="1.1"/><line x1="437.92" y1="551.6" x2="437.92" y2="548.0" stroke="#000" stroke-width="1.1"/><line x1="437.92" y1="290.1" x2="437.92" y2="293.70000000000005" stroke="#000" stroke-width="1.1"/><line x1="376.9" y1="492.17" x2="380.5" y2="492.17" stroke="#000" stroke-width="1.1"/><line x1="645.4" y1="492.17" x2="641.8" y2="492.17" stroke="#000" stroke-width="1.1"/><line x1="486.74" y1="551.6" x2="486.74" y2="548.0" stroke="#000" stroke-width="1.1"/><line x1="486.74" y1="290.1" x2="486.74" y2="293.70000000000005" stroke="#000" stroke-width="1.1"/><line x1="376.9" y1="444.62" x2="380.5" y2="444.62" stroke="#000" stroke-width="1.1"/><line x1="645.4" y1="444.62" x2="641.8" y2="444.62" stroke="#000" stroke-width="1.1"/><line x1="535.56" y1="551.6" x2="535.56" y2="548.0" stroke="#000" stroke-width="1.1"/><line x1="535.56" y1="290.1" x2="535.56" y2="293.70000000000005" stroke="#000" stroke-width="1.1"/><line x1="376.9" y1="397.08" x2="380.5" y2="397.08" stroke="#000" stroke-width="1.1"/><line x1="645.4" y1="397.08" x2="641.8" y2="397.08" stroke="#000" stroke-width="1.1"/><line x1="584.38" y1="551.6" x2="584.38" y2="548.0" stroke="#000" stroke-width="1.1"/><line x1="584.38" y1="290.1" x2="584.38" y2="293.70000000000005" stroke="#000" stroke-width="1.1"/><line x1="376.9" y1="349.53" x2="380.5" y2="349.53" stroke="#000" stroke-width="1.1"/><line x1="645.4" y1="349.53" x2="641.8" y2="349.53" stroke="#000" stroke-width="1.1"/><line x1="633.20" y1="551.6" x2="633.20" y2="548.0" stroke="#000" stroke-width="1.1"/><line x1="633.20" y1="290.1" x2="633.20" y2="293.70000000000005" stroke="#000" stroke-width="1.1"/><line x1="376.9" y1="301.99" x2="380.5" y2="301.99" stroke="#000" stroke-width="1.1"/><line x1="645.4" y1="301.99" x2="641.8" y2="301.99" stroke="#000" stroke-width="1.1"/><text x="388.1" y="568.4" text-anchor="middle"><tspan font-size="17" dy="1.4">−</tspan><tspan dy="-1.4" dx="0.6">2</tspan></text><text x="436.9" y="568.4" text-anchor="middle"><tspan font-size="17" dy="1.4">−</tspan><tspan dy="-1.4" dx="0.6">1</tspan></text><text x="486.7" y="568.4" text-anchor="middle">0</text><text x="535.6" y="568.4" text-anchor="middle">1</text><text x="584.4" y="568.4" text-anchor="middle">2</text><text x="633.2" y="568.4" text-anchor="middle">3</text><text transform="translate(19.8,279.9) rotate(-90)" text-anchor="middle" font-size="21.8">log<tspan font-size="15.5" dy="5">10</tspan><tspan dy="-5" font-style="italic" dx="3.5">I</tspan><tspan font-size="15.5" dy="5">CO</tspan><tspan dy="-5"> [K km s</tspan><tspan font-size="17" dy="-7.5" dx="1">−</tspan><tspan font-size="16" dx="0.5">1</tspan><tspan dy="7.5">]</tspan></text><text x="215.6" y="594.3" text-anchor="middle" font-size="21.8">log<tspan font-size="15.5" dy="5">10</tspan><tspan dy="-5" font-style="italic" dx="3.5">I</tspan><tspan font-size="15.5" dy="5">8<tspan font-style="italic">μ</tspan>m</tspan><tspan dy="-5"> [MJy sr</tspan><tspan font-size="17" dy="-7.5" dx="1">−</tspan><tspan font-size="16" dx="0.5">1</tspan><tspan dy="7.5">]</tspan></text><text x="511.1" y="594.3" text-anchor="middle" font-size="21.8">log<tspan font-size="15.5" dy="5">10</tspan><tspan dy="-5" font-style="italic" dx="3.5">I</tspan><tspan font-size="15.5" dy="5">24<tspan font-style="italic">μ</tspan>m</tspan><tspan dy="-5"> [MJy sr</tspan><tspan font-size="17" dy="-7.5" dx="1">−</tspan><tspan font-size="16" dx="0.5">1</tspan><tspan dy="7.5">]</tspan></text></svg></body></html>
